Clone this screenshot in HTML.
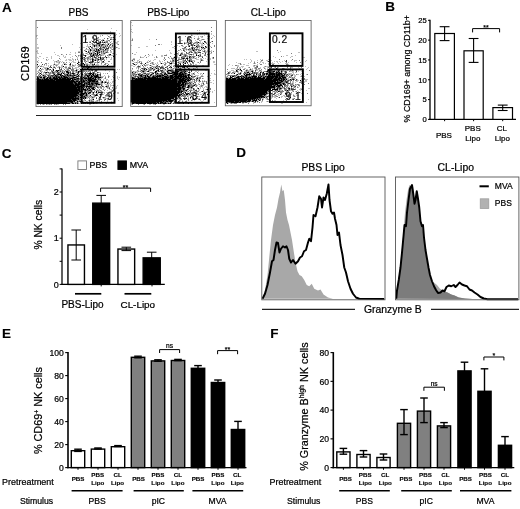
<!DOCTYPE html>
<html lang="en">
<head>
<meta charset="utf-8">
<title>Figure</title>
<style>
html,body{margin:0;padding:0;background:#fff;}
body{width:520px;height:509px;overflow:hidden;}
svg{display:block;font-family:'Liberation Sans', Arial, Helvetica, sans-serif;}
text{stroke:#000;stroke-width:.22px;}
text[font-weight]{stroke-width:.12px;}
</style>
</head>
<body>
<svg width="520" height="509" viewBox="0 0 520 509" font-family="'Liberation Sans', Arial, Helvetica, sans-serif">
<rect width="520" height="509" fill="#fff"/>
<text x="2" y="12.2" font-size="13.5" text-anchor="start" fill="#000" font-weight="bold">A</text>
<g transform="translate(36 20) scale(0.5)">
<path d="M1 121 1 122 1 122 1 123 1 123 1 124 1 124 1 125 1 125 1 126 1 126 1 127 1 127 1 128 1 128 1 129 1 129 1 130 1 130 1 131 1 131 1 132 1 132 1 133 1 133 1 134 1 134 1 135 1 135 1 136 1 136 1 137 1 137 1 138 1 138 1 139 1 139 1 140 1 140 1 141 1 141 1 142 1 142 1 143 1 143 1 144 1 144 1 145 1 145 1 146 1 146 1 147 1 147 1 148 1 148 1 149 1 149 1 150 1 150 1 151 1 151 1 152 1 152 1 153 1 153 1 154 1 154 1 155 1 155 1 156 1 156 1 157 1 157 1 158 1 158 1 159 1 159 1 160 1 160 1 161 1 161 1 162 1 162 1 163 1 163 1 164 1 164 1 165 1 165 1 166 47 166 47 165 59 165 59 164 60 164 60 163 62 163 62 162 64 162 64 161 66 161 66 160 68 160 68 159 70 159 70 158 72 158 72 157 72 157 72 156 74 156 74 155 74 155 74 154 75 154 75 153 75 153 75 152 76 152 76 151 77 151 77 150 77 150 77 149 78 149 78 148 78 148 78 147 78 147 78 146 79 146 79 145 80 145 80 144 81 144 81 143 80 143 80 142 80 142 80 141 80 141 80 140 80 140 80 139 79 139 79 138 79 138 79 137 78 137 78 136 78 136 78 135 78 135 78 134 77 134 77 133 77 133 77 132 76 132 76 131 75 131 75 130 72 130 72 129 72 129 72 128 71 128 71 127 69 127 69 126 67 126 67 125 65 125 65 124 63 124 63 123 61 123 61 122 54 122 54 121zM2 14h1v1h-1zM2 15h1v1h-1zM150 16h1v1h-1zM102 19h1v1h-1zM160 20h1v1h-1zM148 23h1v1h-1zM121 24h1v1h-1zM148 24h1v1h-1zM101 25h1v1h-1zM142 26h1v1h-1zM146 26h1v1h-1zM156 26h1v1h-1zM166 26h1v1h-1zM153 27h2v1h-2zM116 28h1v1h-1zM161 28h1v1h-1zM132 30h2v1h-2zM148 30h2v1h-2zM168 30h1v1h-1zM1 31h2v1h-2zM121 31h1v1h-1zM129 31h1v1h-1zM142 31h1v1h-1zM158 31h1v1h-1zM1 33h1v1h-1zM129 33h1v1h-1zM144 33h3v1h-3zM167 33h1v1h-1zM114 34h2v1h-2zM124 34h1v1h-1zM147 34h1v1h-1zM150 34h1v1h-1zM154 34h2v1h-2zM157 34h1v1h-1zM113 35h1v1h-1zM124 35h1v1h-1zM149 35h2v1h-2zM153 35h2v1h-2zM121 36h1v1h-1zM123 36h1v1h-1zM125 36h1v1h-1zM136 36h1v1h-1zM142 36h1v1h-1zM145 36h1v1h-1zM149 36h2v1h-2zM2 37h1v1h-1zM99 37h2v1h-2zM117 37h1v1h-1zM137 37h1v1h-1zM142 37h2v1h-2zM99 38h2v1h-2zM125 38h1v1h-1zM142 38h1v1h-1zM149 38h2v1h-2zM157 38h2v1h-2zM99 39h1v1h-1zM116 39h1v1h-1zM127 39h2v1h-2zM133 39h2v1h-2zM148 39h3v1h-3zM153 39h3v1h-3zM157 39h2v1h-2zM116 40h1v1h-1zM123 40h2v1h-2zM130 40h1v1h-1zM132 40h4v1h-4zM143 40h2v1h-2zM146 40h1v1h-1zM110 41h1v1h-1zM114 41h2v1h-2zM117 41h1v1h-1zM120 41h5v1h-5zM130 41h1v1h-1zM134 41h2v1h-2zM137 41h1v1h-1zM140 41h1v1h-1zM145 41h2v1h-2zM113 42h1v1h-1zM127 42h2v1h-2zM132 42h2v1h-2zM136 42h1v1h-1zM140 42h1v1h-1zM142 42h2v1h-2zM147 42h1v1h-1zM163 42h2v1h-2zM112 43h2v1h-2zM124 43h2v1h-2zM128 43h2v1h-2zM139 43h2v1h-2zM151 43h1v1h-1zM154 43h1v1h-1zM120 44h2v1h-2zM124 44h1v1h-1zM126 44h1v1h-1zM128 44h2v1h-2zM132 44h2v1h-2zM136 44h2v1h-2zM139 44h5v1h-5zM148 44h2v1h-2zM156 44h1v1h-1zM120 45h3v1h-3zM124 45h1v1h-1zM126 45h5v1h-5zM132 45h1v1h-1zM134 45h5v1h-5zM157 45h1v1h-1zM159 45h1v1h-1zM161 45h2v1h-2zM111 46h2v1h-2zM117 46h1v1h-1zM121 46h5v1h-5zM127 46h2v1h-2zM134 46h1v1h-1zM138 46h1v1h-1zM143 46h3v1h-3zM153 46h1v1h-1zM156 46h1v1h-1zM161 46h2v1h-2zM88 47h1v1h-1zM112 47h1v1h-1zM121 47h8v1h-8zM146 47h1v1h-1zM151 47h2v1h-2zM2 48h1v1h-1zM73 48h1v1h-1zM117 48h2v1h-2zM121 48h2v1h-2zM126 48h2v1h-2zM129 48h1v1h-1zM131 48h4v1h-4zM137 48h1v1h-1zM144 48h2v1h-2zM148 48h1v1h-1zM150 48h1v1h-1zM164 48h2v1h-2zM102 49h1v1h-1zM107 49h2v1h-2zM112 49h4v1h-4zM121 49h2v1h-2zM124 49h2v1h-2zM127 49h1v1h-1zM129 49h2v1h-2zM132 49h5v1h-5zM139 49h1v1h-1zM141 49h2v1h-2zM144 49h2v1h-2zM148 49h2v1h-2zM152 49h1v1h-1zM162 49h1v1h-1zM114 50h1v1h-1zM116 50h2v1h-2zM120 50h1v1h-1zM123 50h2v1h-2zM126 50h2v1h-2zM131 50h2v1h-2zM138 50h2v1h-2zM141 50h2v1h-2zM148 50h2v1h-2zM153 50h1v1h-1zM48 51h1v1h-1zM103 51h1v1h-1zM113 51h2v1h-2zM116 51h6v1h-6zM125 51h3v1h-3zM129 51h4v1h-4zM134 51h1v1h-1zM137 51h1v1h-1zM142 51h2v1h-2zM146 51h2v1h-2zM152 51h2v1h-2zM103 52h2v1h-2zM108 52h2v1h-2zM113 52h2v1h-2zM116 52h2v1h-2zM120 52h3v1h-3zM128 52h1v1h-1zM132 52h1v1h-1zM134 52h1v1h-1zM137 52h3v1h-3zM142 52h2v1h-2zM145 52h1v1h-1zM151 52h3v1h-3zM158 52h1v1h-1zM100 53h1v1h-1zM107 53h3v1h-3zM116 53h3v1h-3zM124 53h1v1h-1zM126 53h3v1h-3zM130 53h2v1h-2zM134 53h1v1h-1zM139 53h2v1h-2zM146 53h2v1h-2zM87 54h1v1h-1zM104 54h3v1h-3zM110 54h1v1h-1zM112 54h2v1h-2zM129 54h1v1h-1zM132 54h1v1h-1zM134 54h3v1h-3zM145 54h1v1h-1zM148 54h3v1h-3zM152 54h1v1h-1zM156 54h1v1h-1zM160 54h3v1h-3zM3 55h2v1h-2zM50 55h2v1h-2zM91 55h1v1h-1zM95 55h1v1h-1zM97 55h1v1h-1zM110 55h2v1h-2zM117 55h1v1h-1zM121 55h1v1h-1zM123 55h2v1h-2zM128 55h3v1h-3zM133 55h1v1h-1zM135 55h4v1h-4zM140 55h2v1h-2zM144 55h2v1h-2zM147 55h1v1h-1zM158 55h1v1h-1zM3 56h2v1h-2zM50 56h2v1h-2zM101 56h1v1h-1zM107 56h1v1h-1zM113 56h2v1h-2zM118 56h1v1h-1zM126 56h2v1h-2zM129 56h1v1h-1zM131 56h1v1h-1zM136 56h1v1h-1zM140 56h6v1h-6zM155 56h1v1h-1zM158 56h1v1h-1zM100 57h1v1h-1zM106 57h2v1h-2zM111 57h2v1h-2zM116 57h1v1h-1zM119 57h4v1h-4zM126 57h1v1h-1zM128 57h3v1h-3zM133 57h2v1h-2zM137 57h2v1h-2zM141 57h2v1h-2zM145 57h1v1h-1zM149 57h1v1h-1zM151 57h1v1h-1zM156 57h1v1h-1zM165 57h2v1h-2zM98 58h1v1h-1zM108 58h2v1h-2zM111 58h2v1h-2zM115 58h1v1h-1zM120 58h3v1h-3zM124 58h2v1h-2zM128 58h3v1h-3zM133 58h2v1h-2zM138 58h6v1h-6zM151 58h2v1h-2zM88 59h1v1h-1zM100 59h1v1h-1zM103 59h1v1h-1zM105 59h2v1h-2zM108 59h2v1h-2zM116 59h3v1h-3zM120 59h3v1h-3zM124 59h2v1h-2zM127 59h1v1h-1zM129 59h1v1h-1zM131 59h1v1h-1zM133 59h3v1h-3zM138 59h2v1h-2zM144 59h1v1h-1zM152 59h1v1h-1zM154 59h1v1h-1zM156 59h1v1h-1zM2 60h1v1h-1zM98 60h1v1h-1zM105 60h1v1h-1zM108 60h2v1h-2zM113 60h4v1h-4zM119 60h4v1h-4zM124 60h4v1h-4zM131 60h1v1h-1zM133 60h4v1h-4zM139 60h1v1h-1zM142 60h1v1h-1zM149 60h1v1h-1zM96 61h2v1h-2zM106 61h1v1h-1zM108 61h4v1h-4zM116 61h2v1h-2zM120 61h1v1h-1zM122 61h1v1h-1zM124 61h3v1h-3zM129 61h1v1h-1zM136 61h1v1h-1zM139 61h2v1h-2zM143 61h2v1h-2zM149 61h1v1h-1zM98 62h4v1h-4zM105 62h1v1h-1zM107 62h3v1h-3zM114 62h1v1h-1zM118 62h5v1h-5zM126 62h1v1h-1zM129 62h4v1h-4zM135 62h1v1h-1zM139 62h2v1h-2zM143 62h1v1h-1zM149 62h2v1h-2zM1 63h2v1h-2zM85 63h2v1h-2zM100 63h2v1h-2zM104 63h2v1h-2zM113 63h1v1h-1zM117 63h4v1h-4zM122 63h4v1h-4zM127 63h1v1h-1zM131 63h1v1h-1zM134 63h3v1h-3zM142 63h1v1h-1zM78 64h1v1h-1zM85 64h2v1h-2zM91 64h1v1h-1zM104 64h2v1h-2zM115 64h3v1h-3zM122 64h3v1h-3zM126 64h3v1h-3zM134 64h3v1h-3zM138 64h1v1h-1zM141 64h2v1h-2zM144 64h1v1h-1zM156 64h1v1h-1zM2 65h1v1h-1zM37 65h1v1h-1zM68 65h1v1h-1zM85 65h2v1h-2zM91 65h1v1h-1zM93 65h1v1h-1zM103 65h1v1h-1zM105 65h4v1h-4zM110 65h1v1h-1zM112 65h1v1h-1zM115 65h1v1h-1zM121 65h3v1h-3zM125 65h3v1h-3zM130 65h2v1h-2zM133 65h1v1h-1zM139 65h3v1h-3zM143 65h1v1h-1zM149 65h2v1h-2zM2 66h1v1h-1zM4 66h1v1h-1zM11 66h1v1h-1zM79 66h1v1h-1zM94 66h1v1h-1zM102 66h1v1h-1zM106 66h1v1h-1zM110 66h2v1h-2zM114 66h3v1h-3zM118 66h2v1h-2zM121 66h3v1h-3zM125 66h2v1h-2zM130 66h1v1h-1zM133 66h2v1h-2zM136 66h3v1h-3zM153 66h1v1h-1zM155 66h1v1h-1zM98 67h1v1h-1zM100 67h2v1h-2zM106 67h7v1h-7zM116 67h1v1h-1zM118 67h2v1h-2zM122 67h3v1h-3zM130 67h1v1h-1zM135 67h1v1h-1zM137 67h1v1h-1zM154 67h1v1h-1zM38 68h1v1h-1zM52 68h1v1h-1zM104 68h1v1h-1zM108 68h4v1h-4zM114 68h7v1h-7zM122 68h2v1h-2zM126 68h4v1h-4zM133 68h1v1h-1zM135 68h1v1h-1zM146 68h4v1h-4zM50 69h2v1h-2zM60 69h2v1h-2zM67 69h2v1h-2zM89 69h2v1h-2zM93 69h3v1h-3zM102 69h1v1h-1zM107 69h2v1h-2zM113 69h3v1h-3zM121 69h3v1h-3zM126 69h2v1h-2zM130 69h1v1h-1zM136 69h1v1h-1zM145 69h1v1h-1zM147 69h3v1h-3zM156 69h2v1h-2zM160 69h1v1h-1zM43 70h2v1h-2zM84 70h2v1h-2zM89 70h1v1h-1zM94 70h1v1h-1zM96 70h4v1h-4zM109 70h1v1h-1zM112 70h1v1h-1zM114 70h2v1h-2zM117 70h2v1h-2zM120 70h2v1h-2zM123 70h2v1h-2zM126 70h1v1h-1zM129 70h4v1h-4zM134 70h1v1h-1zM145 70h1v1h-1zM147 70h1v1h-1zM151 70h2v1h-2zM54 71h1v1h-1zM78 71h2v1h-2zM86 71h1v1h-1zM89 71h1v1h-1zM91 71h2v1h-2zM95 71h1v1h-1zM97 71h4v1h-4zM108 71h8v1h-8zM117 71h2v1h-2zM120 71h1v1h-1zM123 71h3v1h-3zM128 71h1v1h-1zM139 71h1v1h-1zM142 71h2v1h-2zM147 71h2v1h-2zM155 71h2v1h-2zM55 72h1v1h-1zM89 72h5v1h-5zM98 72h2v1h-2zM109 72h3v1h-3zM113 72h2v1h-2zM116 72h1v1h-1zM120 72h4v1h-4zM129 72h1v1h-1zM138 72h1v1h-1zM144 72h1v1h-1zM154 72h2v1h-2zM7 73h2v1h-2zM30 73h1v1h-1zM47 73h1v1h-1zM59 73h1v1h-1zM73 73h1v1h-1zM80 73h2v1h-2zM85 73h1v1h-1zM89 73h2v1h-2zM98 73h1v1h-1zM105 73h3v1h-3zM109 73h5v1h-5zM116 73h2v1h-2zM125 73h1v1h-1zM128 73h1v1h-1zM138 73h2v1h-2zM154 73h2v1h-2zM3 74h1v1h-1zM30 74h1v1h-1zM57 74h1v1h-1zM68 74h1v1h-1zM83 74h1v1h-1zM95 74h1v1h-1zM97 74h1v1h-1zM104 74h2v1h-2zM107 74h2v1h-2zM112 74h3v1h-3zM116 74h4v1h-4zM121 74h1v1h-1zM124 74h3v1h-3zM128 74h3v1h-3zM135 74h1v1h-1zM139 74h3v1h-3zM145 74h2v1h-2zM150 74h1v1h-1zM21 75h2v1h-2zM58 75h1v1h-1zM88 75h1v1h-1zM90 75h5v1h-5zM96 75h2v1h-2zM101 75h3v1h-3zM109 75h1v1h-1zM117 75h1v1h-1zM119 75h2v1h-2zM124 75h1v1h-1zM126 75h1v1h-1zM128 75h2v1h-2zM132 75h3v1h-3zM136 75h2v1h-2zM140 75h3v1h-3zM4 76h1v1h-1zM14 76h1v1h-1zM46 76h2v1h-2zM73 76h1v1h-1zM83 76h1v1h-1zM89 76h2v1h-2zM92 76h2v1h-2zM97 76h1v1h-1zM105 76h1v1h-1zM112 76h1v1h-1zM119 76h2v1h-2zM122 76h3v1h-3zM128 76h5v1h-5zM134 76h2v1h-2zM141 76h1v1h-1zM151 76h1v1h-1zM30 77h1v1h-1zM89 77h1v1h-1zM92 77h2v1h-2zM95 77h2v1h-2zM98 77h2v1h-2zM101 77h4v1h-4zM106 77h1v1h-1zM109 77h1v1h-1zM111 77h4v1h-4zM119 77h1v1h-1zM121 77h1v1h-1zM128 77h2v1h-2zM133 77h2v1h-2zM20 78h2v1h-2zM48 78h1v1h-1zM60 78h1v1h-1zM72 78h1v1h-1zM82 78h2v1h-2zM88 78h1v1h-1zM95 78h2v1h-2zM102 78h2v1h-2zM106 78h1v1h-1zM108 78h1v1h-1zM111 78h4v1h-4zM117 78h2v1h-2zM122 78h1v1h-1zM124 78h2v1h-2zM127 78h8v1h-8zM149 78h2v1h-2zM24 79h1v1h-1zM64 79h1v1h-1zM67 79h2v1h-2zM74 79h1v1h-1zM78 79h2v1h-2zM95 79h3v1h-3zM99 79h1v1h-1zM105 79h1v1h-1zM108 79h1v1h-1zM112 79h4v1h-4zM119 79h1v1h-1zM121 79h2v1h-2zM124 79h2v1h-2zM127 79h2v1h-2zM133 79h1v1h-1zM135 79h2v1h-2zM140 79h1v1h-1zM43 80h1v1h-1zM59 80h2v1h-2zM67 80h2v1h-2zM78 80h1v1h-1zM84 80h1v1h-1zM89 80h1v1h-1zM96 80h2v1h-2zM99 80h1v1h-1zM109 80h1v1h-1zM112 80h8v1h-8zM121 80h5v1h-5zM129 80h2v1h-2zM136 80h1v1h-1zM5 81h1v1h-1zM21 81h2v1h-2zM35 81h1v1h-1zM44 81h2v1h-2zM70 81h1v1h-1zM75 81h1v1h-1zM91 81h2v1h-2zM99 81h1v1h-1zM103 81h2v1h-2zM112 81h2v1h-2zM118 81h2v1h-2zM130 81h1v1h-1zM137 81h1v1h-1zM2 82h1v1h-1zM36 82h1v1h-1zM47 82h2v1h-2zM52 82h1v1h-1zM84 82h2v1h-2zM97 82h1v1h-1zM99 82h4v1h-4zM109 82h2v1h-2zM112 82h4v1h-4zM123 82h1v1h-1zM132 82h1v1h-1zM134 82h2v1h-2zM145 82h3v1h-3zM2 83h1v1h-1zM39 83h4v1h-4zM44 83h1v1h-1zM73 83h2v1h-2zM88 83h1v1h-1zM92 83h2v1h-2zM97 83h1v1h-1zM104 83h1v1h-1zM109 83h2v1h-2zM112 83h3v1h-3zM123 83h1v1h-1zM127 83h1v1h-1zM131 83h2v1h-2zM134 83h2v1h-2zM144 83h1v1h-1zM2 84h1v1h-1zM41 84h2v1h-2zM44 84h1v1h-1zM46 84h1v1h-1zM54 84h2v1h-2zM60 84h2v1h-2zM66 84h1v1h-1zM70 84h1v1h-1zM74 84h1v1h-1zM84 84h2v1h-2zM87 84h1v1h-1zM98 84h2v1h-2zM106 84h5v1h-5zM112 84h2v1h-2zM115 84h2v1h-2zM119 84h2v1h-2zM124 84h3v1h-3zM131 84h2v1h-2zM134 84h2v1h-2zM5 85h1v1h-1zM10 85h2v1h-2zM36 85h1v1h-1zM46 85h1v1h-1zM51 85h1v1h-1zM57 85h1v1h-1zM76 85h1v1h-1zM79 85h1v1h-1zM84 85h2v1h-2zM87 85h1v1h-1zM105 85h4v1h-4zM110 85h3v1h-3zM118 85h1v1h-1zM122 85h3v1h-3zM133 85h1v1h-1zM137 85h1v1h-1zM19 86h2v1h-2zM24 86h1v1h-1zM45 86h1v1h-1zM47 86h1v1h-1zM57 86h2v1h-2zM68 86h2v1h-2zM82 86h3v1h-3zM91 86h1v1h-1zM93 86h3v1h-3zM113 86h1v1h-1zM116 86h1v1h-1zM130 86h1v1h-1zM141 86h2v1h-2zM19 87h2v1h-2zM37 87h1v1h-1zM54 87h1v1h-1zM68 87h1v1h-1zM82 87h2v1h-2zM88 87h1v1h-1zM92 87h1v1h-1zM94 87h2v1h-2zM99 87h2v1h-2zM102 87h1v1h-1zM108 87h3v1h-3zM117 87h1v1h-1zM123 87h1v1h-1zM130 87h1v1h-1zM138 87h2v1h-2zM150 87h1v1h-1zM2 88h2v1h-2zM12 88h2v1h-2zM21 88h1v1h-1zM36 88h2v1h-2zM43 88h1v1h-1zM56 88h2v1h-2zM59 88h2v1h-2zM68 88h2v1h-2zM73 88h1v1h-1zM78 88h1v1h-1zM84 88h2v1h-2zM89 88h1v1h-1zM94 88h4v1h-4zM99 88h2v1h-2zM106 88h1v1h-1zM111 88h4v1h-4zM116 88h2v1h-2zM137 88h3v1h-3zM144 88h2v1h-2zM2 89h2v1h-2zM12 89h1v1h-1zM16 89h2v1h-2zM35 89h2v1h-2zM39 89h2v1h-2zM44 89h1v1h-1zM53 89h1v1h-1zM56 89h2v1h-2zM59 89h2v1h-2zM66 89h4v1h-4zM85 89h4v1h-4zM91 89h2v1h-2zM96 89h2v1h-2zM101 89h4v1h-4zM108 89h1v1h-1zM113 89h1v1h-1zM115 89h3v1h-3zM120 89h1v1h-1zM123 89h2v1h-2zM130 89h1v1h-1zM137 89h1v1h-1zM7 90h1v1h-1zM17 90h1v1h-1zM25 90h1v1h-1zM28 90h1v1h-1zM34 90h1v1h-1zM39 90h4v1h-4zM51 90h2v1h-2zM67 90h3v1h-3zM72 90h1v1h-1zM82 90h1v1h-1zM87 90h2v1h-2zM96 90h1v1h-1zM100 90h4v1h-4zM107 90h1v1h-1zM118 90h1v1h-1zM125 90h1v1h-1zM135 90h1v1h-1zM142 90h2v1h-2zM2 91h1v1h-1zM10 91h1v1h-1zM20 91h1v1h-1zM31 91h1v1h-1zM73 91h4v1h-4zM79 91h1v1h-1zM84 91h1v1h-1zM87 91h3v1h-3zM93 91h2v1h-2zM96 91h2v1h-2zM102 91h1v1h-1zM112 91h4v1h-4zM121 91h1v1h-1zM123 91h1v1h-1zM142 91h2v1h-2zM3 92h3v1h-3zM24 92h1v1h-1zM29 92h1v1h-1zM35 92h2v1h-2zM52 92h1v1h-1zM54 92h2v1h-2zM67 92h1v1h-1zM71 92h2v1h-2zM74 92h1v1h-1zM84 92h3v1h-3zM93 92h2v1h-2zM98 92h1v1h-1zM120 92h2v1h-2zM140 92h1v1h-1zM4 93h1v1h-1zM8 93h5v1h-5zM14 93h1v1h-1zM28 93h2v1h-2zM40 93h1v1h-1zM44 93h1v1h-1zM47 93h1v1h-1zM51 93h1v1h-1zM54 93h2v1h-2zM59 93h2v1h-2zM68 93h1v1h-1zM76 93h1v1h-1zM86 93h1v1h-1zM88 93h1v1h-1zM90 93h2v1h-2zM93 93h1v1h-1zM97 93h1v1h-1zM101 93h2v1h-2zM105 93h1v1h-1zM2 94h2v1h-2zM17 94h1v1h-1zM28 94h4v1h-4zM34 94h5v1h-5zM42 94h1v1h-1zM44 94h1v1h-1zM47 94h1v1h-1zM50 94h1v1h-1zM59 94h1v1h-1zM61 94h1v1h-1zM64 94h3v1h-3zM92 94h1v1h-1zM95 94h2v1h-2zM99 94h4v1h-4zM104 94h3v1h-3zM111 94h1v1h-1zM115 94h2v1h-2zM157 94h1v1h-1zM15 95h1v1h-1zM19 95h2v1h-2zM22 95h1v1h-1zM26 95h2v1h-2zM30 95h1v1h-1zM37 95h1v1h-1zM46 95h2v1h-2zM49 95h1v1h-1zM53 95h1v1h-1zM56 95h1v1h-1zM59 95h2v1h-2zM67 95h2v1h-2zM72 95h2v1h-2zM79 95h2v1h-2zM83 95h1v1h-1zM85 95h1v1h-1zM95 95h1v1h-1zM102 95h1v1h-1zM104 95h4v1h-4zM111 95h1v1h-1zM113 95h1v1h-1zM117 95h1v1h-1zM124 95h1v1h-1zM3 96h1v1h-1zM8 96h2v1h-2zM12 96h1v1h-1zM17 96h4v1h-4zM22 96h4v1h-4zM38 96h1v1h-1zM46 96h1v1h-1zM58 96h1v1h-1zM65 96h4v1h-4zM72 96h3v1h-3zM79 96h2v1h-2zM87 96h1v1h-1zM92 96h2v1h-2zM102 96h2v1h-2zM125 96h1v1h-1zM8 97h2v1h-2zM22 97h3v1h-3zM32 97h1v1h-1zM35 97h1v1h-1zM38 97h1v1h-1zM46 97h2v1h-2zM50 97h2v1h-2zM55 97h1v1h-1zM61 97h2v1h-2zM65 97h2v1h-2zM68 97h2v1h-2zM77 97h1v1h-1zM92 97h2v1h-2zM97 97h2v1h-2zM102 97h4v1h-4zM108 97h2v1h-2zM111 97h1v1h-1zM19 98h2v1h-2zM22 98h3v1h-3zM26 98h4v1h-4zM34 98h2v1h-2zM46 98h3v1h-3zM50 98h2v1h-2zM63 98h2v1h-2zM69 98h2v1h-2zM72 98h3v1h-3zM83 98h2v1h-2zM88 98h2v1h-2zM91 98h1v1h-1zM99 98h2v1h-2zM112 98h1v1h-1zM117 98h1v1h-1zM124 98h1v1h-1zM129 98h3v1h-3zM135 98h1v1h-1zM6 99h2v1h-2zM10 99h2v1h-2zM13 99h2v1h-2zM21 99h1v1h-1zM23 99h2v1h-2zM28 99h1v1h-1zM33 99h3v1h-3zM49 99h2v1h-2zM56 99h2v1h-2zM60 99h1v1h-1zM63 99h2v1h-2zM71 99h1v1h-1zM75 99h1v1h-1zM80 99h2v1h-2zM88 99h5v1h-5zM99 99h2v1h-2zM102 99h2v1h-2zM105 99h2v1h-2zM108 99h2v1h-2zM111 99h4v1h-4zM116 99h5v1h-5zM125 99h1v1h-1zM130 99h2v1h-2zM163 99h1v1h-1zM166 99h1v1h-1zM4 100h1v1h-1zM6 100h4v1h-4zM11 100h1v1h-1zM18 100h1v1h-1zM20 100h1v1h-1zM27 100h1v1h-1zM30 100h2v1h-2zM33 100h3v1h-3zM40 100h2v1h-2zM43 100h3v1h-3zM48 100h3v1h-3zM55 100h1v1h-1zM59 100h2v1h-2zM65 100h2v1h-2zM70 100h1v1h-1zM74 100h3v1h-3zM78 100h4v1h-4zM87 100h2v1h-2zM90 100h2v1h-2zM99 100h2v1h-2zM106 100h1v1h-1zM111 100h3v1h-3zM117 100h4v1h-4zM139 100h1v1h-1zM20 101h1v1h-1zM23 101h1v1h-1zM34 101h2v1h-2zM39 101h9v1h-9zM52 101h2v1h-2zM58 101h1v1h-1zM62 101h2v1h-2zM65 101h2v1h-2zM71 101h3v1h-3zM80 101h3v1h-3zM89 101h2v1h-2zM94 101h3v1h-3zM105 101h1v1h-1zM107 101h2v1h-2zM111 101h2v1h-2zM119 101h4v1h-4zM3 102h1v1h-1zM9 102h2v1h-2zM17 102h1v1h-1zM22 102h1v1h-1zM31 102h2v1h-2zM38 102h2v1h-2zM41 102h3v1h-3zM48 102h1v1h-1zM51 102h2v1h-2zM60 102h4v1h-4zM66 102h1v1h-1zM72 102h2v1h-2zM77 102h2v1h-2zM80 102h1v1h-1zM83 102h7v1h-7zM94 102h5v1h-5zM105 102h1v1h-1zM107 102h3v1h-3zM117 102h1v1h-1zM119 102h2v1h-2zM147 102h1v1h-1zM5 103h1v1h-1zM9 103h1v1h-1zM13 103h1v1h-1zM30 103h1v1h-1zM32 103h3v1h-3zM36 103h1v1h-1zM41 103h4v1h-4zM47 103h3v1h-3zM52 103h1v1h-1zM55 103h3v1h-3zM59 103h7v1h-7zM68 103h2v1h-2zM74 103h2v1h-2zM80 103h1v1h-1zM84 103h3v1h-3zM89 103h1v1h-1zM92 103h1v1h-1zM100 103h2v1h-2zM103 103h2v1h-2zM113 103h1v1h-1zM116 103h1v1h-1zM119 103h2v1h-2zM4 104h1v1h-1zM10 104h2v1h-2zM16 104h6v1h-6zM24 104h2v1h-2zM32 104h2v1h-2zM35 104h2v1h-2zM40 104h2v1h-2zM43 104h4v1h-4zM52 104h1v1h-1zM56 104h2v1h-2zM60 104h7v1h-7zM68 104h2v1h-2zM72 104h2v1h-2zM75 104h1v1h-1zM79 104h1v1h-1zM82 104h5v1h-5zM92 104h1v1h-1zM94 104h1v1h-1zM99 104h1v1h-1zM109 104h1v1h-1zM115 104h2v1h-2zM122 104h3v1h-3zM127 104h1v1h-1zM160 104h2v1h-2zM4 105h1v1h-1zM6 105h1v1h-1zM14 105h1v1h-1zM19 105h6v1h-6zM27 105h3v1h-3zM31 105h2v1h-2zM34 105h2v1h-2zM37 105h1v1h-1zM39 105h1v1h-1zM43 105h2v1h-2zM47 105h2v1h-2zM51 105h4v1h-4zM61 105h6v1h-6zM68 105h1v1h-1zM74 105h1v1h-1zM80 105h2v1h-2zM84 105h2v1h-2zM98 105h1v1h-1zM102 105h1v1h-1zM107 105h3v1h-3zM112 105h5v1h-5zM123 105h1v1h-1zM125 105h1v1h-1zM129 105h1v1h-1zM2 106h1v1h-1zM6 106h4v1h-4zM18 106h3v1h-3zM25 106h4v1h-4zM31 106h5v1h-5zM38 106h1v1h-1zM43 106h2v1h-2zM47 106h2v1h-2zM50 106h3v1h-3zM54 106h2v1h-2zM62 106h4v1h-4zM69 106h1v1h-1zM72 106h6v1h-6zM83 106h3v1h-3zM93 106h1v1h-1zM101 106h1v1h-1zM104 106h9v1h-9zM114 106h2v1h-2zM122 106h1v1h-1zM128 106h2v1h-2zM139 106h1v1h-1zM142 106h2v1h-2zM2 107h1v1h-1zM8 107h3v1h-3zM14 107h1v1h-1zM29 107h1v1h-1zM35 107h3v1h-3zM42 107h5v1h-5zM50 107h2v1h-2zM54 107h4v1h-4zM59 107h1v1h-1zM61 107h1v1h-1zM64 107h2v1h-2zM67 107h10v1h-10zM79 107h1v1h-1zM83 107h2v1h-2zM88 107h1v1h-1zM93 107h1v1h-1zM96 107h4v1h-4zM101 107h3v1h-3zM105 107h8v1h-8zM114 107h6v1h-6zM121 107h1v1h-1zM135 107h1v1h-1zM1 108h1v1h-1zM4 108h1v1h-1zM7 108h1v1h-1zM11 108h1v1h-1zM13 108h1v1h-1zM16 108h1v1h-1zM19 108h2v1h-2zM22 108h1v1h-1zM24 108h1v1h-1zM35 108h4v1h-4zM41 108h9v1h-9zM51 108h1v1h-1zM56 108h2v1h-2zM59 108h1v1h-1zM61 108h5v1h-5zM67 108h3v1h-3zM73 108h3v1h-3zM81 108h4v1h-4zM86 108h2v1h-2zM92 108h3v1h-3zM97 108h4v1h-4zM103 108h2v1h-2zM107 108h3v1h-3zM112 108h4v1h-4zM118 108h2v1h-2zM122 108h8v1h-8zM6 109h1v1h-1zM10 109h2v1h-2zM14 109h1v1h-1zM21 109h1v1h-1zM26 109h2v1h-2zM29 109h1v1h-1zM35 109h3v1h-3zM41 109h2v1h-2zM44 109h8v1h-8zM56 109h1v1h-1zM58 109h1v1h-1zM60 109h4v1h-4zM67 109h1v1h-1zM69 109h2v1h-2zM75 109h3v1h-3zM79 109h2v1h-2zM82 109h2v1h-2zM92 109h2v1h-2zM99 109h3v1h-3zM105 109h5v1h-5zM111 109h6v1h-6zM119 109h2v1h-2zM122 109h2v1h-2zM129 109h1v1h-1zM7 110h3v1h-3zM13 110h3v1h-3zM17 110h1v1h-1zM19 110h1v1h-1zM23 110h4v1h-4zM31 110h9v1h-9zM41 110h4v1h-4zM48 110h3v1h-3zM52 110h3v1h-3zM57 110h3v1h-3zM61 110h3v1h-3zM65 110h8v1h-8zM74 110h4v1h-4zM79 110h2v1h-2zM84 110h2v1h-2zM99 110h1v1h-1zM101 110h3v1h-3zM105 110h4v1h-4zM110 110h3v1h-3zM114 110h2v1h-2zM117 110h1v1h-1zM119 110h6v1h-6zM128 110h2v1h-2zM154 110h1v1h-1zM4 111h2v1h-2zM8 111h1v1h-1zM13 111h3v1h-3zM17 111h2v1h-2zM23 111h2v1h-2zM26 111h1v1h-1zM28 111h4v1h-4zM33 111h2v1h-2zM38 111h5v1h-5zM45 111h2v1h-2zM48 111h7v1h-7zM57 111h2v1h-2zM61 111h6v1h-6zM68 111h3v1h-3zM72 111h3v1h-3zM76 111h5v1h-5zM83 111h3v1h-3zM87 111h1v1h-1zM91 111h2v1h-2zM95 111h13v1h-13zM109 111h4v1h-4zM114 111h11v1h-11zM126 111h1v1h-1zM128 111h1v1h-1zM137 111h1v1h-1zM145 111h1v1h-1zM3 112h1v1h-1zM6 112h2v1h-2zM10 112h1v1h-1zM17 112h2v1h-2zM20 112h2v1h-2zM25 112h2v1h-2zM29 112h1v1h-1zM32 112h2v1h-2zM35 112h13v1h-13zM49 112h3v1h-3zM53 112h7v1h-7zM61 112h2v1h-2zM64 112h1v1h-1zM66 112h3v1h-3zM70 112h6v1h-6zM79 112h6v1h-6zM87 112h1v1h-1zM91 112h1v1h-1zM95 112h2v1h-2zM99 112h1v1h-1zM102 112h5v1h-5zM108 112h6v1h-6zM115 112h9v1h-9zM125 112h1v1h-1zM145 112h2v1h-2zM153 112h1v1h-1zM162 112h1v1h-1zM1 113h6v1h-6zM8 113h2v1h-2zM11 113h1v1h-1zM13 113h7v1h-7zM24 113h2v1h-2zM27 113h6v1h-6zM35 113h2v1h-2zM39 113h4v1h-4zM44 113h1v1h-1zM47 113h1v1h-1zM49 113h4v1h-4zM54 113h5v1h-5zM60 113h3v1h-3zM64 113h2v1h-2zM69 113h1v1h-1zM73 113h2v1h-2zM77 113h1v1h-1zM81 113h5v1h-5zM87 113h4v1h-4zM92 113h1v1h-1zM96 113h2v1h-2zM99 113h2v1h-2zM102 113h5v1h-5zM110 113h4v1h-4zM115 113h11v1h-11zM127 113h4v1h-4zM132 113h1v1h-1zM135 113h1v1h-1zM139 113h1v1h-1zM144 113h1v1h-1zM2 114h3v1h-3zM7 114h5v1h-5zM14 114h5v1h-5zM22 114h5v1h-5zM28 114h3v1h-3zM34 114h5v1h-5zM40 114h2v1h-2zM43 114h5v1h-5zM49 114h4v1h-4zM54 114h1v1h-1zM56 114h8v1h-8zM66 114h1v1h-1zM68 114h1v1h-1zM73 114h8v1h-8zM82 114h1v1h-1zM85 114h1v1h-1zM88 114h4v1h-4zM93 114h5v1h-5zM99 114h2v1h-2zM102 114h5v1h-5zM108 114h15v1h-15zM124 114h7v1h-7zM133 114h1v1h-1zM145 114h1v1h-1zM155 114h2v1h-2zM167 114h1v1h-1zM2 115h5v1h-5zM8 115h4v1h-4zM13 115h6v1h-6zM20 115h1v1h-1zM22 115h3v1h-3zM26 115h4v1h-4zM31 115h37v1h-37zM69 115h13v1h-13zM85 115h1v1h-1zM89 115h3v1h-3zM94 115h2v1h-2zM97 115h5v1h-5zM104 115h8v1h-8zM115 115h2v1h-2zM118 115h12v1h-12zM131 115h2v1h-2zM138 115h2v1h-2zM144 115h1v1h-1zM155 115h3v1h-3zM163 115h1v1h-1zM2 116h4v1h-4zM14 116h10v1h-10zM26 116h5v1h-5zM33 116h18v1h-18zM52 116h25v1h-25zM81 116h29v1h-29zM111 116h5v1h-5zM118 116h2v1h-2zM125 116h1v1h-1zM127 116h2v1h-2zM138 116h2v1h-2zM1 117h14v1h-14zM16 117h2v1h-2zM20 117h24v1h-24zM46 117h15v1h-15zM62 117h4v1h-4zM67 117h8v1h-8zM76 117h10v1h-10zM88 117h1v1h-1zM91 117h2v1h-2zM96 117h7v1h-7zM104 117h16v1h-16zM121 117h6v1h-6zM131 117h1v1h-1zM136 117h1v1h-1zM162 117h1v1h-1zM1 118h9v1h-9zM11 118h4v1h-4zM16 118h19v1h-19zM36 118h34v1h-34zM72 118h9v1h-9zM83 118h3v1h-3zM87 118h5v1h-5zM93 118h3v1h-3zM97 118h3v1h-3zM102 118h13v1h-13zM116 118h5v1h-5zM123 118h4v1h-4zM128 118h2v1h-2zM134 118h1v1h-1zM156 118h2v1h-2zM1 119h26v1h-26zM28 119h42v1h-42zM71 119h4v1h-4zM76 119h9v1h-9zM86 119h1v1h-1zM88 119h1v1h-1zM90 119h1v1h-1zM93 119h1v1h-1zM95 119h2v1h-2zM98 119h1v1h-1zM100 119h2v1h-2zM103 119h9v1h-9zM113 119h9v1h-9zM125 119h2v1h-2zM128 119h1v1h-1zM141 119h2v1h-2zM151 119h1v1h-1zM164 119h1v1h-1zM2 120h37v1h-37zM40 120h36v1h-36zM79 120h1v1h-1zM81 120h5v1h-5zM88 120h2v1h-2zM94 120h3v1h-3zM99 120h3v1h-3zM104 120h14v1h-14zM119 120h5v1h-5zM126 120h1v1h-1zM135 120h1v1h-1zM141 120h1v1h-1zM157 120h2v1h-2zM54 121h15v1h-15zM70 121h9v1h-9zM80 121h3v1h-3zM84 121h1v1h-1zM87 121h1v1h-1zM89 121h3v1h-3zM93 121h27v1h-27zM123 121h2v1h-2zM128 121h3v1h-3zM145 121h1v1h-1zM61 122h29v1h-29zM93 122h5v1h-5zM99 122h4v1h-4zM105 122h6v1h-6zM112 122h7v1h-7zM120 122h4v1h-4zM130 122h1v1h-1zM132 122h2v1h-2zM144 122h1v1h-1zM154 122h1v1h-1zM63 123h15v1h-15zM79 123h6v1h-6zM86 123h2v1h-2zM89 123h3v1h-3zM93 123h6v1h-6zM102 123h23v1h-23zM129 123h1v1h-1zM131 123h3v1h-3zM137 123h3v1h-3zM141 123h1v1h-1zM153 123h1v1h-1zM65 124h10v1h-10zM76 124h6v1h-6zM83 124h9v1h-9zM93 124h4v1h-4zM99 124h4v1h-4zM104 124h5v1h-5zM110 124h7v1h-7zM118 124h1v1h-1zM121 124h4v1h-4zM127 124h2v1h-2zM130 124h1v1h-1zM132 124h2v1h-2zM137 124h4v1h-4zM148 124h1v1h-1zM67 125h14v1h-14zM82 125h1v1h-1zM84 125h4v1h-4zM90 125h4v1h-4zM95 125h5v1h-5zM101 125h8v1h-8zM111 125h1v1h-1zM113 125h2v1h-2zM116 125h7v1h-7zM125 125h1v1h-1zM130 125h5v1h-5zM137 125h4v1h-4zM142 125h4v1h-4zM153 125h1v1h-1zM69 126h7v1h-7zM77 126h6v1h-6zM84 126h9v1h-9zM96 126h9v1h-9zM106 126h2v1h-2zM109 126h15v1h-15zM125 126h1v1h-1zM127 126h2v1h-2zM130 126h2v1h-2zM133 126h1v1h-1zM136 126h1v1h-1zM142 126h2v1h-2zM71 127h3v1h-3zM75 127h17v1h-17zM94 127h1v1h-1zM96 127h2v1h-2zM99 127h4v1h-4zM104 127h4v1h-4zM109 127h6v1h-6zM117 127h7v1h-7zM125 127h1v1h-1zM142 127h1v1h-1zM145 127h2v1h-2zM151 127h1v1h-1zM72 128h20v1h-20zM93 128h10v1h-10zM104 128h4v1h-4zM109 128h6v1h-6zM116 128h3v1h-3zM120 128h3v1h-3zM124 128h4v1h-4zM129 128h2v1h-2zM132 128h1v1h-1zM139 128h2v1h-2zM143 128h1v1h-1zM72 129h5v1h-5zM78 129h11v1h-11zM90 129h8v1h-8zM101 129h9v1h-9zM111 129h5v1h-5zM119 129h9v1h-9zM129 129h2v1h-2zM145 129h1v1h-1zM148 129h1v1h-1zM75 130h15v1h-15zM91 130h7v1h-7zM101 130h3v1h-3zM105 130h11v1h-11zM117 130h4v1h-4zM125 130h1v1h-1zM131 130h2v1h-2zM152 130h1v1h-1zM154 130h1v1h-1zM76 131h11v1h-11zM89 131h1v1h-1zM91 131h11v1h-11zM103 131h1v1h-1zM107 131h2v1h-2zM111 131h2v1h-2zM116 131h2v1h-2zM120 131h3v1h-3zM127 131h1v1h-1zM130 131h2v1h-2zM140 131h1v1h-1zM142 131h1v1h-1zM144 131h2v1h-2zM148 131h1v1h-1zM150 131h1v1h-1zM155 131h1v1h-1zM163 131h1v1h-1zM77 132h4v1h-4zM82 132h30v1h-30zM116 132h3v1h-3zM121 132h2v1h-2zM125 132h1v1h-1zM129 132h1v1h-1zM132 132h3v1h-3zM140 132h3v1h-3zM144 132h2v1h-2zM149 132h1v1h-1zM161 132h1v1h-1zM77 133h14v1h-14zM93 133h4v1h-4zM98 133h1v1h-1zM100 133h16v1h-16zM119 133h4v1h-4zM126 133h1v1h-1zM129 133h2v1h-2zM132 133h1v1h-1zM135 133h1v1h-1zM138 133h5v1h-5zM78 134h13v1h-13zM92 134h6v1h-6zM99 134h3v1h-3zM105 134h1v1h-1zM107 134h5v1h-5zM113 134h5v1h-5zM123 134h2v1h-2zM128 134h4v1h-4zM135 134h2v1h-2zM142 134h2v1h-2zM145 134h1v1h-1zM78 135h10v1h-10zM89 135h2v1h-2zM92 135h3v1h-3zM97 135h1v1h-1zM100 135h2v1h-2zM103 135h5v1h-5zM109 135h2v1h-2zM112 135h5v1h-5zM119 135h1v1h-1zM122 135h3v1h-3zM127 135h1v1h-1zM141 135h1v1h-1zM146 135h2v1h-2zM152 135h2v1h-2zM160 135h1v1h-1zM78 136h4v1h-4zM83 136h5v1h-5zM89 136h2v1h-2zM92 136h5v1h-5zM101 136h7v1h-7zM110 136h6v1h-6zM125 136h1v1h-1zM128 136h1v1h-1zM147 136h1v1h-1zM158 136h1v1h-1zM79 137h13v1h-13zM94 137h2v1h-2zM98 137h2v1h-2zM101 137h1v1h-1zM103 137h2v1h-2zM106 137h2v1h-2zM109 137h2v1h-2zM112 137h4v1h-4zM117 137h3v1h-3zM130 137h2v1h-2zM134 137h1v1h-1zM142 137h1v1h-1zM145 137h3v1h-3zM153 137h1v1h-1zM160 137h1v1h-1zM79 138h10v1h-10zM90 138h15v1h-15zM106 138h5v1h-5zM112 138h6v1h-6zM121 138h1v1h-1zM135 138h1v1h-1zM138 138h1v1h-1zM146 138h1v1h-1zM154 138h2v1h-2zM157 138h1v1h-1zM80 139h11v1h-11zM93 139h7v1h-7zM102 139h2v1h-2zM105 139h1v1h-1zM108 139h2v1h-2zM113 139h5v1h-5zM122 139h1v1h-1zM126 139h2v1h-2zM132 139h1v1h-1zM135 139h1v1h-1zM149 139h2v1h-2zM80 140h9v1h-9zM91 140h2v1h-2zM96 140h1v1h-1zM98 140h14v1h-14zM117 140h1v1h-1zM123 140h2v1h-2zM127 140h4v1h-4zM136 140h2v1h-2zM143 140h1v1h-1zM153 140h2v1h-2zM80 141h21v1h-21zM104 141h1v1h-1zM106 141h2v1h-2zM109 141h1v1h-1zM111 141h1v1h-1zM113 141h1v1h-1zM119 141h2v1h-2zM123 141h2v1h-2zM151 141h1v1h-1zM153 141h2v1h-2zM80 142h14v1h-14zM98 142h2v1h-2zM103 142h3v1h-3zM109 142h2v1h-2zM116 142h1v1h-1zM120 142h3v1h-3zM124 142h2v1h-2zM127 142h2v1h-2zM147 142h1v1h-1zM151 142h3v1h-3zM159 142h1v1h-1zM81 143h4v1h-4zM86 143h8v1h-8zM95 143h4v1h-4zM101 143h1v1h-1zM103 143h1v1h-1zM106 143h1v1h-1zM109 143h3v1h-3zM113 143h1v1h-1zM117 143h1v1h-1zM120 143h2v1h-2zM130 143h3v1h-3zM149 143h2v1h-2zM80 144h6v1h-6zM87 144h1v1h-1zM89 144h1v1h-1zM91 144h4v1h-4zM97 144h4v1h-4zM104 144h1v1h-1zM106 144h5v1h-5zM114 144h2v1h-2zM117 144h1v1h-1zM120 144h2v1h-2zM126 144h2v1h-2zM141 144h2v1h-2zM145 144h1v1h-1zM150 144h2v1h-2zM79 145h12v1h-12zM96 145h5v1h-5zM102 145h3v1h-3zM106 145h4v1h-4zM112 145h4v1h-4zM119 145h3v1h-3zM124 145h2v1h-2zM127 145h2v1h-2zM132 145h1v1h-1zM134 145h1v1h-1zM137 145h1v1h-1zM158 145h1v1h-1zM163 145h2v1h-2zM78 146h8v1h-8zM88 146h2v1h-2zM91 146h11v1h-11zM104 146h4v1h-4zM112 146h1v1h-1zM115 146h1v1h-1zM129 146h1v1h-1zM154 146h2v1h-2zM163 146h2v1h-2zM78 147h11v1h-11zM90 147h8v1h-8zM99 147h3v1h-3zM103 147h4v1h-4zM108 147h2v1h-2zM114 147h2v1h-2zM120 147h1v1h-1zM122 147h3v1h-3zM137 147h1v1h-1zM143 147h1v1h-1zM147 147h1v1h-1zM78 148h9v1h-9zM88 148h2v1h-2zM91 148h7v1h-7zM99 148h3v1h-3zM105 148h2v1h-2zM111 148h1v1h-1zM113 148h2v1h-2zM120 148h2v1h-2zM126 148h5v1h-5zM133 148h1v1h-1zM140 148h2v1h-2zM146 148h1v1h-1zM156 148h1v1h-1zM77 149h6v1h-6zM85 149h5v1h-5zM92 149h1v1h-1zM94 149h2v1h-2zM99 149h5v1h-5zM113 149h1v1h-1zM115 149h4v1h-4zM120 149h4v1h-4zM128 149h3v1h-3zM133 149h2v1h-2zM146 149h1v1h-1zM77 150h7v1h-7zM87 150h8v1h-8zM96 150h3v1h-3zM100 150h4v1h-4zM108 150h2v1h-2zM115 150h2v1h-2zM118 150h5v1h-5zM139 150h2v1h-2zM76 151h10v1h-10zM87 151h7v1h-7zM95 151h1v1h-1zM98 151h4v1h-4zM104 151h1v1h-1zM106 151h1v1h-1zM108 151h2v1h-2zM117 151h7v1h-7zM128 151h1v1h-1zM131 151h1v1h-1zM139 151h2v1h-2zM143 151h2v1h-2zM146 151h2v1h-2zM75 152h7v1h-7zM83 152h3v1h-3zM87 152h2v1h-2zM90 152h11v1h-11zM103 152h1v1h-1zM109 152h3v1h-3zM117 152h1v1h-1zM124 152h1v1h-1zM130 152h1v1h-1zM141 152h1v1h-1zM143 152h1v1h-1zM146 152h2v1h-2zM75 153h6v1h-6zM83 153h3v1h-3zM87 153h1v1h-1zM89 153h1v1h-1zM93 153h2v1h-2zM96 153h2v1h-2zM100 153h1v1h-1zM103 153h1v1h-1zM105 153h3v1h-3zM113 153h2v1h-2zM117 153h2v1h-2zM128 153h2v1h-2zM139 153h1v1h-1zM147 153h1v1h-1zM74 154h9v1h-9zM84 154h1v1h-1zM86 154h5v1h-5zM92 154h1v1h-1zM95 154h7v1h-7zM105 154h2v1h-2zM109 154h1v1h-1zM111 154h2v1h-2zM115 154h2v1h-2zM126 154h1v1h-1zM128 154h2v1h-2zM135 154h2v1h-2zM145 154h1v1h-1zM74 155h2v1h-2zM77 155h4v1h-4zM82 155h4v1h-4zM88 155h9v1h-9zM98 155h2v1h-2zM103 155h1v1h-1zM105 155h1v1h-1zM112 155h3v1h-3zM120 155h2v1h-2zM126 155h2v1h-2zM133 155h4v1h-4zM139 155h1v1h-1zM146 155h1v1h-1zM72 156h18v1h-18zM91 156h1v1h-1zM93 156h4v1h-4zM98 156h2v1h-2zM106 156h1v1h-1zM111 156h1v1h-1zM113 156h2v1h-2zM120 156h2v1h-2zM134 156h1v1h-1zM140 156h1v1h-1zM72 157h14v1h-14zM90 157h2v1h-2zM94 157h3v1h-3zM98 157h2v1h-2zM101 157h2v1h-2zM107 157h1v1h-1zM120 157h1v1h-1zM124 157h1v1h-1zM142 157h1v1h-1zM163 157h1v1h-1zM70 158h17v1h-17zM88 158h1v1h-1zM91 158h1v1h-1zM107 158h1v1h-1zM113 158h3v1h-3zM125 158h1v1h-1zM127 158h1v1h-1zM68 159h3v1h-3zM72 159h8v1h-8zM81 159h2v1h-2zM84 159h3v1h-3zM88 159h2v1h-2zM92 159h1v1h-1zM96 159h2v1h-2zM109 159h2v1h-2zM113 159h3v1h-3zM128 159h1v1h-1zM130 159h2v1h-2zM142 159h1v1h-1zM146 159h1v1h-1zM66 160h6v1h-6zM73 160h12v1h-12zM95 160h1v1h-1zM97 160h1v1h-1zM99 160h1v1h-1zM105 160h1v1h-1zM107 160h2v1h-2zM111 160h2v1h-2zM115 160h1v1h-1zM120 160h1v1h-1zM122 160h1v1h-1zM125 160h2v1h-2zM136 160h2v1h-2zM143 160h1v1h-1zM165 160h1v1h-1zM64 161h17v1h-17zM86 161h3v1h-3zM91 161h2v1h-2zM98 161h1v1h-1zM106 161h2v1h-2zM111 161h1v1h-1zM123 161h1v1h-1zM126 161h1v1h-1zM62 162h12v1h-12zM75 162h3v1h-3zM81 162h9v1h-9zM93 162h2v1h-2zM107 162h1v1h-1zM115 162h1v1h-1zM142 162h1v1h-1zM60 163h19v1h-19zM82 163h2v1h-2zM87 163h4v1h-4zM92 163h2v1h-2zM100 163h1v1h-1zM102 163h1v1h-1zM107 163h2v1h-2zM110 163h4v1h-4zM115 163h1v1h-1zM119 163h2v1h-2zM122 163h1v1h-1zM126 163h1v1h-1zM130 163h2v1h-2zM150 163h1v1h-1zM59 164h16v1h-16zM78 164h1v1h-1zM80 164h1v1h-1zM82 164h3v1h-3zM91 164h3v1h-3zM96 164h1v1h-1zM100 164h2v1h-2zM103 164h1v1h-1zM110 164h2v1h-2zM119 164h2v1h-2zM130 164h2v1h-2zM139 164h2v1h-2zM47 165h15v1h-15zM63 165h2v1h-2zM67 165h2v1h-2zM70 165h5v1h-5zM76 165h5v1h-5zM83 165h1v1h-1zM88 165h7v1h-7zM98 165h2v1h-2zM104 165h2v1h-2zM108 165h3v1h-3zM117 165h2v1h-2zM130 165h2v1h-2zM136 165h1v1h-1zM1 166h69v1h-69zM71 166h10v1h-10zM82 166h4v1h-4zM90 166h6v1h-6zM97 166h2v1h-2zM102 166h3v1h-3zM107 166h6v1h-6zM114 166h2v1h-2zM117 166h2v1h-2zM120 166h2v1h-2zM129 166h2v1h-2zM140 166h2v1h-2zM144 166h1v1h-1zM1 167h67v1h-67zM71 167h5v1h-5zM78 167h3v1h-3zM82 167h2v1h-2zM87 167h2v1h-2zM90 167h2v1h-2zM94 167h1v1h-1zM97 167h4v1h-4zM103 167h2v1h-2zM106 167h3v1h-3zM110 167h1v1h-1zM113 167h4v1h-4zM123 167h1v1h-1zM151 167h1v1h-1zM3 168h2v1h-2zM8 168h2v1h-2zM13 168h4v1h-4zM20 168h2v1h-2zM23 168h2v1h-2zM26 168h2v1h-2zM29 168h3v1h-3zM36 168h2v1h-2zM39 168h3v1h-3zM43 168h2v1h-2zM54 168h2v1h-2zM58 168h2v1h-2zM107 168h2v1h-2z" fill="#000"/>
</g>
<rect x="36" y="20.4" width="86.2" height="86.2" fill="none" stroke="#555" stroke-width="0.8"/>
<rect x="81.7" y="33.3" width="32.8" height="33.4" fill="none" stroke="#000" stroke-width="1.9"/>
<rect x="81.7" y="69.4" width="32.8" height="33.4" fill="none" stroke="#000" stroke-width="1.9"/>
<text x="82.6" y="43.3" font-size="10.2" text-anchor="start" fill="#111" letter-spacing=".5" stroke-width=".1">1.9</text>
<text x="97.6" y="100" font-size="10.2" text-anchor="start" fill="#111" letter-spacing=".5" stroke-width=".1">7.9</text>
<text x="78.5" y="16" font-size="10" text-anchor="middle" fill="#000">PBS</text>
<g transform="translate(130 20) scale(0.5)">
<path d="M51 118 51 119 5 119 5 120 1 120 1 121 1 121 1 122 1 122 1 123 1 123 1 124 1 124 1 125 1 125 1 126 1 126 1 127 1 127 1 128 1 128 1 129 1 129 1 130 1 130 1 131 1 131 1 132 1 132 1 133 1 133 1 134 1 134 1 135 1 135 1 136 1 136 1 137 1 137 1 138 1 138 1 139 1 139 1 140 1 140 1 141 1 141 1 142 1 142 1 143 1 143 1 144 1 144 1 145 1 145 1 146 1 146 1 147 1 147 1 148 1 148 1 149 1 149 1 150 1 150 1 151 1 151 1 152 1 152 1 153 1 153 1 154 1 154 1 155 1 155 1 156 1 156 1 157 1 157 1 158 1 158 1 159 1 159 1 160 1 160 1 161 1 161 1 162 1 162 1 163 1 163 1 164 1 164 1 165 18 165 18 164 55 164 55 163 60 163 60 162 66 162 66 161 72 161 72 160 76 160 76 159 79 159 79 158 81 158 81 157 82 157 82 156 84 156 84 155 85 155 85 154 86 154 86 153 87 153 87 152 88 152 88 151 90 151 90 150 90 150 90 149 91 149 91 148 91 148 91 147 91 147 91 146 91 146 91 145 91 145 91 144 91 144 91 143 91 143 91 142 91 142 91 141 91 141 91 140 92 140 92 139 93 139 93 138 92 138 92 137 92 137 92 136 92 136 92 135 91 135 91 134 91 134 91 133 91 133 91 132 91 132 91 131 90 131 90 130 89 130 89 129 89 129 89 128 89 128 89 127 88 127 88 126 88 126 88 125 87 125 87 124 86 124 86 123 85 123 85 122 83 122 83 121 82 121 82 120 79 120 79 119 71 119 71 118zM3 5h1v1h-1zM4 11h1v1h-1zM162 14h2v1h-2zM3 19h1v1h-1zM139 20h1v1h-1zM134 21h1v1h-1zM162 22h2v1h-2zM3 23h1v1h-1zM5 24h1v1h-1zM138 25h1v1h-1zM153 25h1v1h-1zM162 27h1v1h-1zM134 28h1v1h-1zM122 29h1v1h-1zM152 29h1v1h-1zM156 29h2v1h-2zM163 29h1v1h-1zM122 30h2v1h-2zM125 30h1v1h-1zM148 30h1v1h-1zM167 31h1v1h-1zM110 32h2v1h-2zM120 32h2v1h-2zM129 32h1v1h-1zM137 32h1v1h-1zM145 32h1v1h-1zM154 32h1v1h-1zM157 32h2v1h-2zM169 32h1v1h-1zM140 33h1v1h-1zM143 33h2v1h-2zM157 33h2v1h-2zM136 34h1v1h-1zM143 34h2v1h-2zM117 35h4v1h-4zM164 35h1v1h-1zM4 36h1v1h-1zM117 36h2v1h-2zM123 36h1v1h-1zM128 36h2v1h-2zM135 36h1v1h-1zM139 36h1v1h-1zM154 36h1v1h-1zM162 36h2v1h-2zM117 37h2v1h-2zM136 37h2v1h-2zM38 38h1v1h-1zM136 38h2v1h-2zM143 38h2v1h-2zM147 38h2v1h-2zM4 39h2v1h-2zM52 39h2v1h-2zM117 39h1v1h-1zM134 39h2v1h-2zM145 39h2v1h-2zM3 40h3v1h-3zM123 40h1v1h-1zM138 40h2v1h-2zM141 40h2v1h-2zM103 41h2v1h-2zM118 41h1v1h-1zM121 41h1v1h-1zM130 41h1v1h-1zM83 42h1v1h-1zM133 42h2v1h-2zM141 42h1v1h-1zM148 42h2v1h-2zM164 42h2v1h-2zM98 43h1v1h-1zM118 43h2v1h-2zM148 43h4v1h-4zM163 43h2v1h-2zM129 44h9v1h-9zM150 44h2v1h-2zM82 45h1v1h-1zM112 45h1v1h-1zM119 45h3v1h-3zM124 45h1v1h-1zM136 45h2v1h-2zM139 45h2v1h-2zM145 45h1v1h-1zM149 45h1v1h-1zM151 45h1v1h-1zM153 45h1v1h-1zM160 45h2v1h-2zM103 46h2v1h-2zM120 46h2v1h-2zM127 46h2v1h-2zM130 46h1v1h-1zM133 46h2v1h-2zM139 46h1v1h-1zM141 46h1v1h-1zM146 46h2v1h-2zM153 46h1v1h-1zM156 46h2v1h-2zM113 47h1v1h-1zM122 47h2v1h-2zM127 47h2v1h-2zM135 47h1v1h-1zM143 47h1v1h-1zM145 47h3v1h-3zM153 47h1v1h-1zM164 47h1v1h-1zM57 48h2v1h-2zM115 48h3v1h-3zM120 48h1v1h-1zM122 48h3v1h-3zM132 48h1v1h-1zM136 48h1v1h-1zM142 48h1v1h-1zM145 48h1v1h-1zM149 48h1v1h-1zM57 49h2v1h-2zM62 49h1v1h-1zM83 49h1v1h-1zM108 49h1v1h-1zM116 49h1v1h-1zM123 49h1v1h-1zM125 49h3v1h-3zM135 49h2v1h-2zM155 49h1v1h-1zM158 49h1v1h-1zM103 50h2v1h-2zM118 50h1v1h-1zM123 50h4v1h-4zM128 50h2v1h-2zM133 50h3v1h-3zM138 50h1v1h-1zM143 50h1v1h-1zM145 50h2v1h-2zM3 51h1v1h-1zM50 51h2v1h-2zM95 51h1v1h-1zM103 51h2v1h-2zM116 51h3v1h-3zM121 51h4v1h-4zM128 51h3v1h-3zM136 51h2v1h-2zM158 51h2v1h-2zM168 51h2v1h-2zM33 52h2v1h-2zM111 52h2v1h-2zM117 52h3v1h-3zM132 52h2v1h-2zM135 52h2v1h-2zM138 52h2v1h-2zM141 52h1v1h-1zM150 52h3v1h-3zM160 52h1v1h-1zM168 52h2v1h-2zM88 53h2v1h-2zM98 53h1v1h-1zM105 53h2v1h-2zM112 53h1v1h-1zM117 53h3v1h-3zM124 53h2v1h-2zM132 53h2v1h-2zM135 53h2v1h-2zM143 53h2v1h-2zM150 53h2v1h-2zM156 53h1v1h-1zM17 54h2v1h-2zM110 54h1v1h-1zM123 54h3v1h-3zM129 54h3v1h-3zM133 54h3v1h-3zM142 54h2v1h-2zM145 54h3v1h-3zM150 54h1v1h-1zM152 54h2v1h-2zM162 54h2v1h-2zM84 55h1v1h-1zM86 55h1v1h-1zM108 55h4v1h-4zM123 55h1v1h-1zM125 55h3v1h-3zM135 55h2v1h-2zM139 55h1v1h-1zM142 55h2v1h-2zM145 55h3v1h-3zM151 55h1v1h-1zM153 55h1v1h-1zM105 56h2v1h-2zM108 56h3v1h-3zM112 56h1v1h-1zM118 56h1v1h-1zM122 56h1v1h-1zM124 56h2v1h-2zM129 56h1v1h-1zM133 56h1v1h-1zM135 56h1v1h-1zM144 56h2v1h-2zM147 56h2v1h-2zM157 56h2v1h-2zM88 57h1v1h-1zM105 57h2v1h-2zM119 57h2v1h-2zM123 57h3v1h-3zM127 57h3v1h-3zM138 57h1v1h-1zM142 57h1v1h-1zM148 57h3v1h-3zM106 58h2v1h-2zM117 58h6v1h-6zM125 58h1v1h-1zM127 58h2v1h-2zM132 58h1v1h-1zM135 58h2v1h-2zM138 58h1v1h-1zM146 58h1v1h-1zM148 58h1v1h-1zM157 58h2v1h-2zM100 59h2v1h-2zM108 59h1v1h-1zM111 59h4v1h-4zM116 59h2v1h-2zM124 59h3v1h-3zM128 59h1v1h-1zM130 59h5v1h-5zM137 59h1v1h-1zM142 59h2v1h-2zM50 60h1v1h-1zM91 60h1v1h-1zM97 60h2v1h-2zM102 60h1v1h-1zM107 60h2v1h-2zM113 60h1v1h-1zM117 60h2v1h-2zM120 60h1v1h-1zM126 60h3v1h-3zM137 60h4v1h-4zM144 60h1v1h-1zM148 60h2v1h-2zM157 60h1v1h-1zM163 60h1v1h-1zM78 61h1v1h-1zM96 61h1v1h-1zM106 61h3v1h-3zM123 61h6v1h-6zM131 61h3v1h-3zM136 61h1v1h-1zM140 61h2v1h-2zM151 61h1v1h-1zM155 61h2v1h-2zM94 62h1v1h-1zM127 62h3v1h-3zM135 62h1v1h-1zM137 62h1v1h-1zM146 62h1v1h-1zM148 62h3v1h-3zM155 62h2v1h-2zM158 62h3v1h-3zM166 62h2v1h-2zM108 63h3v1h-3zM119 63h5v1h-5zM131 63h1v1h-1zM138 63h1v1h-1zM145 63h2v1h-2zM148 63h1v1h-1zM153 63h1v1h-1zM163 63h1v1h-1zM13 64h1v1h-1zM97 64h1v1h-1zM102 64h1v1h-1zM112 64h2v1h-2zM118 64h1v1h-1zM122 64h3v1h-3zM131 64h1v1h-1zM133 64h2v1h-2zM137 64h4v1h-4zM156 64h1v1h-1zM80 65h1v1h-1zM91 65h1v1h-1zM104 65h1v1h-1zM112 65h1v1h-1zM117 65h3v1h-3zM121 65h2v1h-2zM125 65h1v1h-1zM128 65h5v1h-5zM136 65h3v1h-3zM140 65h2v1h-2zM149 65h4v1h-4zM162 65h2v1h-2zM4 66h2v1h-2zM93 66h2v1h-2zM97 66h1v1h-1zM103 66h1v1h-1zM114 66h3v1h-3zM130 66h1v1h-1zM132 66h3v1h-3zM144 66h2v1h-2zM147 66h1v1h-1zM150 66h1v1h-1zM81 67h2v1h-2zM93 67h2v1h-2zM101 67h5v1h-5zM108 67h1v1h-1zM112 67h2v1h-2zM117 67h2v1h-2zM126 67h1v1h-1zM129 67h2v1h-2zM141 67h1v1h-1zM150 67h2v1h-2zM161 67h2v1h-2zM45 68h1v1h-1zM72 68h1v1h-1zM89 68h2v1h-2zM95 68h2v1h-2zM101 68h1v1h-1zM103 68h4v1h-4zM110 68h2v1h-2zM116 68h1v1h-1zM120 68h2v1h-2zM123 68h2v1h-2zM126 68h1v1h-1zM132 68h2v1h-2zM150 68h2v1h-2zM155 68h1v1h-1zM158 68h1v1h-1zM9 69h2v1h-2zM36 69h2v1h-2zM89 69h2v1h-2zM100 69h3v1h-3zM108 69h2v1h-2zM113 69h1v1h-1zM118 69h3v1h-3zM122 69h2v1h-2zM126 69h1v1h-1zM133 69h1v1h-1zM138 69h1v1h-1zM140 69h2v1h-2zM148 69h1v1h-1zM155 69h1v1h-1zM45 70h1v1h-1zM70 70h4v1h-4zM95 70h1v1h-1zM98 70h4v1h-4zM109 70h2v1h-2zM113 70h2v1h-2zM119 70h1v1h-1zM122 70h1v1h-1zM132 70h3v1h-3zM136 70h3v1h-3zM140 70h2v1h-2zM148 70h4v1h-4zM30 71h2v1h-2zM39 71h1v1h-1zM63 71h2v1h-2zM68 71h2v1h-2zM98 71h1v1h-1zM100 71h3v1h-3zM107 71h1v1h-1zM109 71h4v1h-4zM127 71h1v1h-1zM132 71h2v1h-2zM136 71h2v1h-2zM141 71h1v1h-1zM21 72h1v1h-1zM29 72h1v1h-1zM63 72h2v1h-2zM80 72h1v1h-1zM89 72h3v1h-3zM109 72h4v1h-4zM119 72h1v1h-1zM121 72h1v1h-1zM125 72h1v1h-1zM127 72h1v1h-1zM137 72h3v1h-3zM141 72h1v1h-1zM145 72h1v1h-1zM152 72h1v1h-1zM36 73h1v1h-1zM52 73h2v1h-2zM81 73h1v1h-1zM90 73h3v1h-3zM94 73h1v1h-1zM103 73h6v1h-6zM111 73h1v1h-1zM114 73h2v1h-2zM117 73h6v1h-6zM125 73h2v1h-2zM128 73h3v1h-3zM141 73h1v1h-1zM143 73h2v1h-2zM20 74h1v1h-1zM25 74h2v1h-2zM32 74h2v1h-2zM49 74h1v1h-1zM52 74h3v1h-3zM88 74h2v1h-2zM95 74h1v1h-1zM102 74h2v1h-2zM105 74h5v1h-5zM112 74h1v1h-1zM114 74h2v1h-2zM118 74h3v1h-3zM122 74h1v1h-1zM124 74h1v1h-1zM126 74h3v1h-3zM136 74h2v1h-2zM144 74h2v1h-2zM167 74h1v1h-1zM21 75h2v1h-2zM68 75h2v1h-2zM76 75h2v1h-2zM82 75h1v1h-1zM87 75h3v1h-3zM92 75h2v1h-2zM97 75h2v1h-2zM103 75h1v1h-1zM105 75h1v1h-1zM118 75h3v1h-3zM123 75h1v1h-1zM127 75h1v1h-1zM133 75h1v1h-1zM144 75h1v1h-1zM165 75h3v1h-3zM68 76h2v1h-2zM78 76h1v1h-1zM82 76h4v1h-4zM88 76h1v1h-1zM92 76h2v1h-2zM96 76h1v1h-1zM99 76h1v1h-1zM105 76h6v1h-6zM112 76h4v1h-4zM119 76h2v1h-2zM130 76h1v1h-1zM132 76h1v1h-1zM146 76h1v1h-1zM150 76h1v1h-1zM161 76h1v1h-1zM164 76h1v1h-1zM166 76h2v1h-2zM7 77h2v1h-2zM86 77h2v1h-2zM93 77h1v1h-1zM102 77h7v1h-7zM112 77h5v1h-5zM119 77h2v1h-2zM122 77h1v1h-1zM125 77h2v1h-2zM129 77h2v1h-2zM140 77h1v1h-1zM143 77h1v1h-1zM4 78h1v1h-1zM7 78h2v1h-2zM19 78h1v1h-1zM49 78h2v1h-2zM67 78h1v1h-1zM98 78h5v1h-5zM106 78h1v1h-1zM110 78h1v1h-1zM114 78h2v1h-2zM119 78h3v1h-3zM134 78h1v1h-1zM155 78h1v1h-1zM7 79h2v1h-2zM70 79h2v1h-2zM84 79h3v1h-3zM89 79h4v1h-4zM96 79h2v1h-2zM103 79h1v1h-1zM105 79h2v1h-2zM111 79h1v1h-1zM114 79h1v1h-1zM118 79h1v1h-1zM122 79h2v1h-2zM133 79h1v1h-1zM137 79h1v1h-1zM141 79h4v1h-4zM161 79h1v1h-1zM4 80h2v1h-2zM9 80h1v1h-1zM14 80h1v1h-1zM46 80h1v1h-1zM59 80h1v1h-1zM81 80h1v1h-1zM84 80h3v1h-3zM90 80h2v1h-2zM94 80h1v1h-1zM105 80h1v1h-1zM108 80h2v1h-2zM111 80h1v1h-1zM116 80h9v1h-9zM141 80h4v1h-4zM3 81h2v1h-2zM17 81h1v1h-1zM37 81h1v1h-1zM40 81h1v1h-1zM68 81h2v1h-2zM86 81h3v1h-3zM90 81h1v1h-1zM94 81h4v1h-4zM106 81h2v1h-2zM110 81h2v1h-2zM114 81h2v1h-2zM118 81h2v1h-2zM127 81h2v1h-2zM143 81h1v1h-1zM145 81h2v1h-2zM59 82h2v1h-2zM74 82h2v1h-2zM81 82h2v1h-2zM86 82h2v1h-2zM90 82h4v1h-4zM98 82h1v1h-1zM108 82h2v1h-2zM112 82h2v1h-2zM118 82h2v1h-2zM121 82h4v1h-4zM129 82h1v1h-1zM140 82h2v1h-2zM153 82h1v1h-1zM5 83h2v1h-2zM15 83h1v1h-1zM18 83h2v1h-2zM21 83h1v1h-1zM23 83h1v1h-1zM34 83h1v1h-1zM38 83h3v1h-3zM64 83h1v1h-1zM81 83h1v1h-1zM84 83h2v1h-2zM89 83h3v1h-3zM96 83h1v1h-1zM101 83h2v1h-2zM104 83h1v1h-1zM106 83h2v1h-2zM110 83h1v1h-1zM112 83h2v1h-2zM116 83h1v1h-1zM118 83h3v1h-3zM122 83h3v1h-3zM128 83h1v1h-1zM167 83h2v1h-2zM18 84h2v1h-2zM23 84h1v1h-1zM33 84h1v1h-1zM46 84h1v1h-1zM61 84h1v1h-1zM69 84h2v1h-2zM74 84h1v1h-1zM78 84h2v1h-2zM83 84h1v1h-1zM87 84h1v1h-1zM91 84h1v1h-1zM94 84h1v1h-1zM96 84h2v1h-2zM101 84h2v1h-2zM105 84h4v1h-4zM113 84h2v1h-2zM124 84h1v1h-1zM127 84h1v1h-1zM136 84h1v1h-1zM167 84h2v1h-2zM9 85h1v1h-1zM11 85h3v1h-3zM15 85h2v1h-2zM22 85h1v1h-1zM34 85h3v1h-3zM43 85h3v1h-3zM55 85h1v1h-1zM75 85h3v1h-3zM83 85h2v1h-2zM92 85h1v1h-1zM97 85h2v1h-2zM106 85h2v1h-2zM110 85h2v1h-2zM114 85h2v1h-2zM119 85h1v1h-1zM124 85h3v1h-3zM135 85h2v1h-2zM140 85h2v1h-2zM5 86h3v1h-3zM14 86h1v1h-1zM22 86h3v1h-3zM30 86h2v1h-2zM40 86h2v1h-2zM45 86h2v1h-2zM50 86h1v1h-1zM54 86h1v1h-1zM61 86h3v1h-3zM70 86h2v1h-2zM79 86h6v1h-6zM87 86h2v1h-2zM92 86h1v1h-1zM97 86h3v1h-3zM101 86h1v1h-1zM104 86h1v1h-1zM106 86h1v1h-1zM108 86h4v1h-4zM114 86h2v1h-2zM121 86h1v1h-1zM125 86h2v1h-2zM5 87h2v1h-2zM20 87h3v1h-3zM30 87h2v1h-2zM42 87h1v1h-1zM44 87h1v1h-1zM62 87h2v1h-2zM65 87h1v1h-1zM67 87h1v1h-1zM73 87h1v1h-1zM79 87h5v1h-5zM90 87h4v1h-4zM100 87h2v1h-2zM110 87h2v1h-2zM121 87h1v1h-1zM127 87h1v1h-1zM138 87h1v1h-1zM8 88h2v1h-2zM52 88h1v1h-1zM68 88h1v1h-1zM70 88h2v1h-2zM79 88h2v1h-2zM92 88h3v1h-3zM96 88h1v1h-1zM100 88h2v1h-2zM106 88h2v1h-2zM116 88h2v1h-2zM126 88h1v1h-1zM131 88h1v1h-1zM169 88h2v1h-2zM6 89h4v1h-4zM11 89h3v1h-3zM22 89h1v1h-1zM27 89h3v1h-3zM32 89h1v1h-1zM34 89h1v1h-1zM37 89h1v1h-1zM44 89h1v1h-1zM46 89h3v1h-3zM57 89h1v1h-1zM68 89h1v1h-1zM83 89h1v1h-1zM93 89h1v1h-1zM95 89h3v1h-3zM100 89h2v1h-2zM106 89h2v1h-2zM120 89h4v1h-4zM132 89h1v1h-1zM17 90h1v1h-1zM24 90h2v1h-2zM28 90h2v1h-2zM35 90h1v1h-1zM40 90h2v1h-2zM54 90h2v1h-2zM64 90h1v1h-1zM68 90h1v1h-1zM71 90h1v1h-1zM77 90h3v1h-3zM87 90h1v1h-1zM89 90h3v1h-3zM95 90h2v1h-2zM100 90h1v1h-1zM106 90h5v1h-5zM114 90h1v1h-1zM116 90h1v1h-1zM118 90h3v1h-3zM126 90h3v1h-3zM145 90h2v1h-2zM3 91h2v1h-2zM10 91h1v1h-1zM20 91h1v1h-1zM25 91h1v1h-1zM30 91h3v1h-3zM38 91h1v1h-1zM41 91h2v1h-2zM53 91h2v1h-2zM76 91h1v1h-1zM82 91h1v1h-1zM89 91h1v1h-1zM95 91h2v1h-2zM98 91h1v1h-1zM102 91h1v1h-1zM106 91h1v1h-1zM109 91h3v1h-3zM7 92h2v1h-2zM15 92h2v1h-2zM18 92h2v1h-2zM45 92h1v1h-1zM53 92h2v1h-2zM56 92h3v1h-3zM74 92h2v1h-2zM80 92h1v1h-1zM83 92h1v1h-1zM86 92h1v1h-1zM88 92h1v1h-1zM94 92h1v1h-1zM106 92h1v1h-1zM110 92h2v1h-2zM113 92h3v1h-3zM124 92h2v1h-2zM129 92h1v1h-1zM135 92h1v1h-1zM15 93h3v1h-3zM19 93h2v1h-2zM26 93h2v1h-2zM31 93h1v1h-1zM43 93h1v1h-1zM45 93h1v1h-1zM47 93h2v1h-2zM51 93h3v1h-3zM55 93h1v1h-1zM58 93h2v1h-2zM62 93h4v1h-4zM67 93h1v1h-1zM73 93h2v1h-2zM80 93h2v1h-2zM86 93h1v1h-1zM90 93h3v1h-3zM97 93h2v1h-2zM112 93h2v1h-2zM117 93h1v1h-1zM120 93h3v1h-3zM124 93h2v1h-2zM141 93h1v1h-1zM13 94h2v1h-2zM19 94h2v1h-2zM27 94h1v1h-1zM35 94h1v1h-1zM41 94h3v1h-3zM47 94h2v1h-2zM50 94h3v1h-3zM61 94h6v1h-6zM70 94h3v1h-3zM78 94h6v1h-6zM88 94h1v1h-1zM91 94h4v1h-4zM96 94h2v1h-2zM100 94h1v1h-1zM105 94h5v1h-5zM114 94h2v1h-2zM132 94h1v1h-1zM16 95h2v1h-2zM29 95h1v1h-1zM34 95h1v1h-1zM39 95h3v1h-3zM47 95h1v1h-1zM50 95h1v1h-1zM54 95h3v1h-3zM59 95h4v1h-4zM65 95h2v1h-2zM71 95h2v1h-2zM74 95h1v1h-1zM78 95h1v1h-1zM82 95h2v1h-2zM93 95h2v1h-2zM96 95h2v1h-2zM104 95h3v1h-3zM108 95h2v1h-2zM113 95h2v1h-2zM132 95h1v1h-1zM134 95h1v1h-1zM5 96h1v1h-1zM12 96h1v1h-1zM22 96h4v1h-4zM29 96h2v1h-2zM32 96h1v1h-1zM36 96h1v1h-1zM40 96h1v1h-1zM44 96h2v1h-2zM47 96h1v1h-1zM50 96h1v1h-1zM52 96h5v1h-5zM61 96h1v1h-1zM65 96h4v1h-4zM75 96h2v1h-2zM84 96h1v1h-1zM87 96h1v1h-1zM91 96h3v1h-3zM97 96h1v1h-1zM99 96h4v1h-4zM116 96h2v1h-2zM5 97h1v1h-1zM16 97h2v1h-2zM25 97h7v1h-7zM37 97h2v1h-2zM41 97h5v1h-5zM49 97h1v1h-1zM52 97h2v1h-2zM56 97h2v1h-2zM60 97h5v1h-5zM67 97h1v1h-1zM69 97h1v1h-1zM74 97h2v1h-2zM81 97h2v1h-2zM87 97h1v1h-1zM89 97h2v1h-2zM94 97h1v1h-1zM99 97h2v1h-2zM108 97h3v1h-3zM116 97h1v1h-1zM118 97h2v1h-2zM126 97h3v1h-3zM130 97h1v1h-1zM135 97h1v1h-1zM4 98h1v1h-1zM27 98h3v1h-3zM32 98h2v1h-2zM38 98h1v1h-1zM40 98h5v1h-5zM47 98h2v1h-2zM56 98h2v1h-2zM59 98h1v1h-1zM69 98h3v1h-3zM75 98h2v1h-2zM83 98h2v1h-2zM92 98h1v1h-1zM96 98h1v1h-1zM100 98h4v1h-4zM105 98h1v1h-1zM107 98h3v1h-3zM118 98h2v1h-2zM127 98h2v1h-2zM131 98h1v1h-1zM16 99h1v1h-1zM20 99h2v1h-2zM25 99h2v1h-2zM28 99h2v1h-2zM31 99h3v1h-3zM35 99h2v1h-2zM38 99h1v1h-1zM46 99h1v1h-1zM48 99h3v1h-3zM55 99h2v1h-2zM59 99h1v1h-1zM61 99h1v1h-1zM65 99h2v1h-2zM70 99h1v1h-1zM75 99h1v1h-1zM78 99h1v1h-1zM80 99h1v1h-1zM83 99h2v1h-2zM87 99h1v1h-1zM91 99h2v1h-2zM94 99h1v1h-1zM96 99h1v1h-1zM100 99h5v1h-5zM106 99h4v1h-4zM112 99h3v1h-3zM128 99h2v1h-2zM136 99h1v1h-1zM147 99h1v1h-1zM14 100h3v1h-3zM22 100h1v1h-1zM25 100h2v1h-2zM28 100h2v1h-2zM38 100h1v1h-1zM41 100h1v1h-1zM46 100h3v1h-3zM55 100h3v1h-3zM61 100h5v1h-5zM73 100h14v1h-14zM88 100h1v1h-1zM93 100h2v1h-2zM98 100h1v1h-1zM101 100h2v1h-2zM107 100h4v1h-4zM113 100h1v1h-1zM122 100h1v1h-1zM150 100h1v1h-1zM152 100h1v1h-1zM3 101h1v1h-1zM21 101h3v1h-3zM25 101h1v1h-1zM27 101h1v1h-1zM30 101h3v1h-3zM36 101h3v1h-3zM40 101h1v1h-1zM42 101h1v1h-1zM46 101h1v1h-1zM52 101h6v1h-6zM60 101h2v1h-2zM63 101h2v1h-2zM67 101h2v1h-2zM70 101h1v1h-1zM76 101h7v1h-7zM84 101h1v1h-1zM86 101h1v1h-1zM92 101h13v1h-13zM106 101h1v1h-1zM109 101h1v1h-1zM118 101h2v1h-2zM122 101h2v1h-2zM168 101h1v1h-1zM4 102h1v1h-1zM6 102h2v1h-2zM9 102h2v1h-2zM13 102h1v1h-1zM15 102h2v1h-2zM19 102h4v1h-4zM25 102h3v1h-3zM29 102h1v1h-1zM31 102h2v1h-2zM34 102h1v1h-1zM36 102h2v1h-2zM50 102h5v1h-5zM56 102h1v1h-1zM58 102h2v1h-2zM62 102h2v1h-2zM65 102h1v1h-1zM67 102h1v1h-1zM69 102h1v1h-1zM74 102h2v1h-2zM77 102h1v1h-1zM83 102h6v1h-6zM90 102h8v1h-8zM103 102h2v1h-2zM107 102h1v1h-1zM109 102h4v1h-4zM114 102h1v1h-1zM122 102h2v1h-2zM131 102h2v1h-2zM137 102h1v1h-1zM3 103h1v1h-1zM17 103h1v1h-1zM24 103h5v1h-5zM34 103h4v1h-4zM39 103h1v1h-1zM50 103h4v1h-4zM56 103h2v1h-2zM61 103h1v1h-1zM63 103h1v1h-1zM65 103h2v1h-2zM73 103h3v1h-3zM77 103h2v1h-2zM80 103h4v1h-4zM85 103h2v1h-2zM88 103h1v1h-1zM90 103h3v1h-3zM94 103h19v1h-19zM114 103h1v1h-1zM118 103h2v1h-2zM123 103h1v1h-1zM4 104h2v1h-2zM9 104h3v1h-3zM13 104h2v1h-2zM22 104h3v1h-3zM29 104h1v1h-1zM31 104h1v1h-1zM38 104h1v1h-1zM40 104h5v1h-5zM48 104h6v1h-6zM63 104h4v1h-4zM69 104h1v1h-1zM74 104h2v1h-2zM77 104h2v1h-2zM81 104h9v1h-9zM91 104h6v1h-6zM100 104h4v1h-4zM105 104h1v1h-1zM108 104h2v1h-2zM117 104h4v1h-4zM134 104h2v1h-2zM3 105h3v1h-3zM7 105h1v1h-1zM11 105h1v1h-1zM26 105h2v1h-2zM45 105h2v1h-2zM50 105h2v1h-2zM55 105h1v1h-1zM62 105h1v1h-1zM65 105h2v1h-2zM68 105h1v1h-1zM70 105h2v1h-2zM75 105h4v1h-4zM84 105h8v1h-8zM93 105h3v1h-3zM97 105h15v1h-15zM113 105h1v1h-1zM116 105h4v1h-4zM129 105h1v1h-1zM7 106h2v1h-2zM11 106h1v1h-1zM15 106h1v1h-1zM17 106h2v1h-2zM21 106h1v1h-1zM24 106h1v1h-1zM26 106h5v1h-5zM39 106h1v1h-1zM45 106h3v1h-3zM50 106h2v1h-2zM53 106h4v1h-4zM59 106h2v1h-2zM62 106h1v1h-1zM68 106h1v1h-1zM70 106h2v1h-2zM74 106h34v1h-34zM109 106h6v1h-6zM126 106h2v1h-2zM129 106h1v1h-1zM136 106h1v1h-1zM146 106h2v1h-2zM169 106h1v1h-1zM3 107h4v1h-4zM9 107h1v1h-1zM19 107h2v1h-2zM29 107h4v1h-4zM34 107h5v1h-5zM42 107h1v1h-1zM44 107h4v1h-4zM50 107h1v1h-1zM53 107h4v1h-4zM60 107h4v1h-4zM65 107h2v1h-2zM68 107h4v1h-4zM73 107h1v1h-1zM76 107h8v1h-8zM85 107h2v1h-2zM88 107h9v1h-9zM98 107h5v1h-5zM104 107h3v1h-3zM108 107h4v1h-4zM113 107h1v1h-1zM118 107h2v1h-2zM123 107h1v1h-1zM125 107h2v1h-2zM141 107h2v1h-2zM147 107h1v1h-1zM163 107h1v1h-1zM5 108h4v1h-4zM10 108h4v1h-4zM16 108h5v1h-5zM22 108h3v1h-3zM30 108h1v1h-1zM32 108h5v1h-5zM41 108h5v1h-5zM51 108h3v1h-3zM55 108h1v1h-1zM57 108h3v1h-3zM62 108h3v1h-3zM68 108h3v1h-3zM72 108h4v1h-4zM82 108h1v1h-1zM85 108h23v1h-23zM109 108h2v1h-2zM112 108h1v1h-1zM115 108h5v1h-5zM125 108h2v1h-2zM128 108h2v1h-2zM140 108h1v1h-1zM145 108h1v1h-1zM3 109h2v1h-2zM8 109h1v1h-1zM13 109h2v1h-2zM16 109h3v1h-3zM20 109h1v1h-1zM22 109h1v1h-1zM24 109h3v1h-3zM29 109h1v1h-1zM32 109h1v1h-1zM36 109h3v1h-3zM41 109h3v1h-3zM47 109h1v1h-1zM51 109h2v1h-2zM54 109h1v1h-1zM57 109h1v1h-1zM60 109h2v1h-2zM63 109h3v1h-3zM67 109h7v1h-7zM76 109h1v1h-1zM78 109h1v1h-1zM81 109h1v1h-1zM84 109h12v1h-12zM97 109h16v1h-16zM115 109h5v1h-5zM122 109h1v1h-1zM169 109h2v1h-2zM3 110h1v1h-1zM5 110h3v1h-3zM10 110h2v1h-2zM17 110h1v1h-1zM19 110h5v1h-5zM27 110h5v1h-5zM34 110h2v1h-2zM39 110h4v1h-4zM46 110h3v1h-3zM50 110h2v1h-2zM53 110h3v1h-3zM57 110h5v1h-5zM63 110h5v1h-5zM69 110h3v1h-3zM73 110h3v1h-3zM78 110h10v1h-10zM89 110h6v1h-6zM96 110h25v1h-25zM124 110h1v1h-1zM131 110h2v1h-2zM135 110h1v1h-1zM137 110h1v1h-1zM143 110h2v1h-2zM3 111h1v1h-1zM7 111h2v1h-2zM12 111h1v1h-1zM16 111h1v1h-1zM18 111h11v1h-11zM30 111h7v1h-7zM40 111h2v1h-2zM43 111h2v1h-2zM46 111h1v1h-1zM49 111h2v1h-2zM52 111h1v1h-1zM54 111h15v1h-15zM72 111h1v1h-1zM74 111h4v1h-4zM80 111h6v1h-6zM87 111h18v1h-18zM106 111h3v1h-3zM110 111h3v1h-3zM115 111h3v1h-3zM119 111h4v1h-4zM160 111h1v1h-1zM3 112h1v1h-1zM8 112h5v1h-5zM15 112h1v1h-1zM17 112h4v1h-4zM22 112h3v1h-3zM30 112h3v1h-3zM34 112h5v1h-5zM40 112h2v1h-2zM44 112h5v1h-5zM51 112h12v1h-12zM64 112h3v1h-3zM68 112h7v1h-7zM76 112h2v1h-2zM79 112h8v1h-8zM88 112h26v1h-26zM115 112h3v1h-3zM122 112h3v1h-3zM127 112h3v1h-3zM131 112h1v1h-1zM143 112h2v1h-2zM154 112h1v1h-1zM3 113h2v1h-2zM6 113h1v1h-1zM10 113h1v1h-1zM13 113h3v1h-3zM17 113h1v1h-1zM20 113h13v1h-13zM34 113h6v1h-6zM43 113h2v1h-2zM46 113h19v1h-19zM67 113h9v1h-9zM77 113h37v1h-37zM116 113h4v1h-4zM122 113h3v1h-3zM126 113h1v1h-1zM128 113h1v1h-1zM131 113h1v1h-1zM135 113h1v1h-1zM140 113h1v1h-1zM143 113h2v1h-2zM146 113h1v1h-1zM3 114h4v1h-4zM8 114h4v1h-4zM14 114h1v1h-1zM16 114h2v1h-2zM19 114h2v1h-2zM22 114h2v1h-2zM25 114h1v1h-1zM27 114h8v1h-8zM36 114h20v1h-20zM59 114h2v1h-2zM62 114h1v1h-1zM64 114h5v1h-5zM70 114h19v1h-19zM90 114h8v1h-8zM99 114h9v1h-9zM109 114h12v1h-12zM133 114h4v1h-4zM3 115h5v1h-5zM14 115h1v1h-1zM16 115h2v1h-2zM19 115h3v1h-3zM24 115h9v1h-9zM35 115h6v1h-6zM43 115h9v1h-9zM53 115h26v1h-26zM80 115h24v1h-24zM105 115h9v1h-9zM115 115h6v1h-6zM123 115h6v1h-6zM138 115h4v1h-4zM3 116h7v1h-7zM11 116h52v1h-52zM64 116h12v1h-12zM77 116h2v1h-2zM80 116h7v1h-7zM88 116h23v1h-23zM113 116h12v1h-12zM127 116h1v1h-1zM134 116h3v1h-3zM138 116h4v1h-4zM146 116h1v1h-1zM161 116h1v1h-1zM3 117h11v1h-11zM15 117h11v1h-11zM27 117h76v1h-76zM104 117h12v1h-12zM117 117h3v1h-3zM121 117h2v1h-2zM131 117h5v1h-5zM144 117h2v1h-2zM3 118h4v1h-4zM9 118h23v1h-23zM33 118h18v1h-18zM71 118h12v1h-12zM84 118h8v1h-8zM93 118h2v1h-2zM96 118h18v1h-18zM115 118h4v1h-4zM120 118h4v1h-4zM125 118h1v1h-1zM127 118h3v1h-3zM133 118h2v1h-2zM138 118h1v1h-1zM3 119h2v1h-2zM79 119h18v1h-18zM98 119h10v1h-10zM109 119h10v1h-10zM120 119h3v1h-3zM125 119h1v1h-1zM127 119h2v1h-2zM132 119h2v1h-2zM136 119h1v1h-1zM138 119h1v1h-1zM82 120h30v1h-30zM113 120h8v1h-8zM132 120h3v1h-3zM137 120h3v1h-3zM145 120h1v1h-1zM149 120h1v1h-1zM159 120h2v1h-2zM167 120h1v1h-1zM83 121h11v1h-11zM95 121h2v1h-2zM98 121h15v1h-15zM114 121h7v1h-7zM124 121h1v1h-1zM128 121h2v1h-2zM131 121h1v1h-1zM138 121h2v1h-2zM85 122h9v1h-9zM95 122h11v1h-11zM107 122h7v1h-7zM116 122h3v1h-3zM120 122h1v1h-1zM125 122h1v1h-1zM128 122h2v1h-2zM133 122h1v1h-1zM137 122h2v1h-2zM144 122h3v1h-3zM149 122h1v1h-1zM152 122h2v1h-2zM86 123h30v1h-30zM117 123h1v1h-1zM123 123h1v1h-1zM126 123h1v1h-1zM132 123h1v1h-1zM139 123h3v1h-3zM149 123h2v1h-2zM156 123h2v1h-2zM87 124h8v1h-8zM96 124h16v1h-16zM113 124h2v1h-2zM117 124h2v1h-2zM121 124h1v1h-1zM123 124h1v1h-1zM129 124h3v1h-3zM138 124h1v1h-1zM88 125h15v1h-15zM104 125h6v1h-6zM111 125h3v1h-3zM115 125h1v1h-1zM118 125h3v1h-3zM123 125h1v1h-1zM125 125h1v1h-1zM128 125h1v1h-1zM145 125h2v1h-2zM152 125h2v1h-2zM161 125h2v1h-2zM88 126h15v1h-15zM104 126h4v1h-4zM110 126h2v1h-2zM113 126h9v1h-9zM126 126h2v1h-2zM146 126h2v1h-2zM153 126h2v1h-2zM89 127h14v1h-14zM104 127h11v1h-11zM117 127h1v1h-1zM121 127h1v1h-1zM123 127h2v1h-2zM127 127h1v1h-1zM130 127h1v1h-1zM137 127h1v1h-1zM143 127h1v1h-1zM145 127h2v1h-2zM153 127h1v1h-1zM166 127h1v1h-1zM89 128h25v1h-25zM120 128h1v1h-1zM123 128h2v1h-2zM126 128h1v1h-1zM129 128h2v1h-2zM142 128h1v1h-1zM146 128h3v1h-3zM89 129h11v1h-11zM101 129h8v1h-8zM110 129h2v1h-2zM114 129h3v1h-3zM118 129h3v1h-3zM123 129h1v1h-1zM129 129h4v1h-4zM137 129h3v1h-3zM90 130h22v1h-22zM113 130h1v1h-1zM115 130h5v1h-5zM121 130h1v1h-1zM123 130h1v1h-1zM125 130h6v1h-6zM132 130h1v1h-1zM135 130h1v1h-1zM143 130h2v1h-2zM91 131h13v1h-13zM105 131h3v1h-3zM109 131h2v1h-2zM116 131h3v1h-3zM120 131h1v1h-1zM123 131h1v1h-1zM125 131h2v1h-2zM128 131h2v1h-2zM132 131h1v1h-1zM140 131h1v1h-1zM143 131h2v1h-2zM146 131h1v1h-1zM91 132h11v1h-11zM104 132h8v1h-8zM114 132h1v1h-1zM116 132h3v1h-3zM120 132h3v1h-3zM124 132h2v1h-2zM127 132h1v1h-1zM131 132h3v1h-3zM138 132h1v1h-1zM141 132h2v1h-2zM91 133h10v1h-10zM102 133h6v1h-6zM109 133h1v1h-1zM111 133h1v1h-1zM114 133h1v1h-1zM116 133h4v1h-4zM122 133h1v1h-1zM125 133h2v1h-2zM143 133h2v1h-2zM151 133h2v1h-2zM91 134h16v1h-16zM110 134h1v1h-1zM113 134h5v1h-5zM119 134h1v1h-1zM121 134h5v1h-5zM134 134h1v1h-1zM140 134h1v1h-1zM145 134h1v1h-1zM149 134h1v1h-1zM153 134h2v1h-2zM92 135h3v1h-3zM96 135h6v1h-6zM103 135h8v1h-8zM112 135h1v1h-1zM114 135h4v1h-4zM119 135h1v1h-1zM121 135h3v1h-3zM92 136h12v1h-12zM105 136h5v1h-5zM117 136h2v1h-2zM125 136h3v1h-3zM134 136h4v1h-4zM141 136h1v1h-1zM154 136h1v1h-1zM92 137h11v1h-11zM104 137h7v1h-7zM117 137h1v1h-1zM121 137h3v1h-3zM126 137h1v1h-1zM128 137h1v1h-1zM136 137h2v1h-2zM146 137h1v1h-1zM160 137h2v1h-2zM93 138h10v1h-10zM105 138h6v1h-6zM113 138h3v1h-3zM120 138h1v1h-1zM123 138h1v1h-1zM126 138h4v1h-4zM138 138h1v1h-1zM146 138h1v1h-1zM151 138h5v1h-5zM160 138h2v1h-2zM92 139h11v1h-11zM104 139h1v1h-1zM106 139h3v1h-3zM114 139h4v1h-4zM126 139h1v1h-1zM133 139h1v1h-1zM136 139h1v1h-1zM154 139h2v1h-2zM91 140h3v1h-3zM95 140h16v1h-16zM112 140h2v1h-2zM115 140h1v1h-1zM119 140h5v1h-5zM130 140h3v1h-3zM136 140h1v1h-1zM138 140h1v1h-1zM155 140h2v1h-2zM91 141h10v1h-10zM103 141h1v1h-1zM106 141h1v1h-1zM110 141h4v1h-4zM119 141h1v1h-1zM125 141h2v1h-2zM129 141h2v1h-2zM132 141h2v1h-2zM146 141h2v1h-2zM168 141h1v1h-1zM91 142h9v1h-9zM101 142h6v1h-6zM108 142h1v1h-1zM113 142h1v1h-1zM116 142h2v1h-2zM120 142h1v1h-1zM128 142h3v1h-3zM135 142h2v1h-2zM142 142h1v1h-1zM144 142h2v1h-2zM148 142h1v1h-1zM153 142h2v1h-2zM91 143h16v1h-16zM109 143h2v1h-2zM113 143h1v1h-1zM115 143h1v1h-1zM120 143h2v1h-2zM126 143h1v1h-1zM132 143h3v1h-3zM136 143h1v1h-1zM143 143h4v1h-4zM159 143h2v1h-2zM164 143h1v1h-1zM91 144h10v1h-10zM102 144h2v1h-2zM108 144h4v1h-4zM121 144h1v1h-1zM123 144h2v1h-2zM127 144h2v1h-2zM133 144h2v1h-2zM146 144h1v1h-1zM148 144h1v1h-1zM153 144h1v1h-1zM165 144h1v1h-1zM91 145h13v1h-13zM106 145h2v1h-2zM110 145h2v1h-2zM114 145h1v1h-1zM118 145h1v1h-1zM121 145h1v1h-1zM124 145h1v1h-1zM129 145h1v1h-1zM139 145h2v1h-2zM153 145h1v1h-1zM158 145h2v1h-2zM91 146h8v1h-8zM101 146h2v1h-2zM105 146h2v1h-2zM110 146h3v1h-3zM115 146h6v1h-6zM122 146h1v1h-1zM128 146h5v1h-5zM137 146h1v1h-1zM148 146h2v1h-2zM156 146h2v1h-2zM91 147h8v1h-8zM100 147h1v1h-1zM103 147h5v1h-5zM111 147h7v1h-7zM122 147h2v1h-2zM126 147h1v1h-1zM130 147h1v1h-1zM133 147h2v1h-2zM144 147h1v1h-1zM148 147h2v1h-2zM91 148h6v1h-6zM98 148h6v1h-6zM105 148h2v1h-2zM108 148h1v1h-1zM112 148h4v1h-4zM118 148h2v1h-2zM121 148h2v1h-2zM154 148h2v1h-2zM90 149h7v1h-7zM98 149h3v1h-3zM102 149h2v1h-2zM107 149h4v1h-4zM112 149h4v1h-4zM117 149h1v1h-1zM119 149h2v1h-2zM135 149h3v1h-3zM141 149h2v1h-2zM154 149h4v1h-4zM90 150h12v1h-12zM104 150h1v1h-1zM107 150h1v1h-1zM110 150h5v1h-5zM119 150h2v1h-2zM125 150h1v1h-1zM127 150h2v1h-2zM131 150h1v1h-1zM156 150h1v1h-1zM88 151h12v1h-12zM101 151h1v1h-1zM103 151h3v1h-3zM107 151h3v1h-3zM117 151h1v1h-1zM123 151h1v1h-1zM127 151h1v1h-1zM131 151h2v1h-2zM87 152h7v1h-7zM95 152h4v1h-4zM103 152h1v1h-1zM107 152h1v1h-1zM109 152h1v1h-1zM111 152h1v1h-1zM114 152h1v1h-1zM120 152h1v1h-1zM122 152h2v1h-2zM135 152h1v1h-1zM138 152h1v1h-1zM86 153h7v1h-7zM95 153h6v1h-6zM102 153h1v1h-1zM104 153h1v1h-1zM106 153h1v1h-1zM109 153h2v1h-2zM115 153h1v1h-1zM117 153h1v1h-1zM122 153h1v1h-1zM134 153h3v1h-3zM153 153h1v1h-1zM159 153h1v1h-1zM85 154h4v1h-4zM90 154h5v1h-5zM96 154h1v1h-1zM98 154h1v1h-1zM100 154h2v1h-2zM109 154h2v1h-2zM113 154h1v1h-1zM117 154h1v1h-1zM120 154h2v1h-2zM127 154h1v1h-1zM144 154h1v1h-1zM84 155h9v1h-9zM95 155h5v1h-5zM108 155h1v1h-1zM120 155h2v1h-2zM123 155h1v1h-1zM135 155h1v1h-1zM146 155h2v1h-2zM82 156h7v1h-7zM90 156h5v1h-5zM96 156h1v1h-1zM98 156h4v1h-4zM106 156h2v1h-2zM109 156h2v1h-2zM112 156h2v1h-2zM120 156h2v1h-2zM126 156h3v1h-3zM130 156h2v1h-2zM133 156h3v1h-3zM149 156h1v1h-1zM81 157h7v1h-7zM90 157h6v1h-6zM99 157h1v1h-1zM101 157h2v1h-2zM107 157h7v1h-7zM116 157h2v1h-2zM126 157h1v1h-1zM130 157h1v1h-1zM152 157h2v1h-2zM79 158h14v1h-14zM94 158h1v1h-1zM97 158h2v1h-2zM109 158h1v1h-1zM115 158h3v1h-3zM124 158h1v1h-1zM126 158h4v1h-4zM149 158h1v1h-1zM76 159h6v1h-6zM87 159h5v1h-5zM100 159h4v1h-4zM108 159h2v1h-2zM111 159h1v1h-1zM126 159h4v1h-4zM139 159h2v1h-2zM146 159h1v1h-1zM72 160h15v1h-15zM88 160h2v1h-2zM105 160h1v1h-1zM112 160h1v1h-1zM116 160h2v1h-2zM123 160h2v1h-2zM140 160h1v1h-1zM147 160h1v1h-1zM66 161h8v1h-8zM75 161h13v1h-13zM90 161h2v1h-2zM98 161h3v1h-3zM122 161h1v1h-1zM128 161h1v1h-1zM60 162h27v1h-27zM88 162h2v1h-2zM96 162h3v1h-3zM104 162h2v1h-2zM113 162h1v1h-1zM145 162h1v1h-1zM55 163h10v1h-10zM66 163h3v1h-3zM71 163h6v1h-6zM78 163h6v1h-6zM85 163h1v1h-1zM89 163h1v1h-1zM91 163h1v1h-1zM96 163h1v1h-1zM98 163h1v1h-1zM110 163h2v1h-2zM113 163h1v1h-1zM142 163h1v1h-1zM18 164h34v1h-34zM53 164h5v1h-5zM59 164h7v1h-7zM67 164h6v1h-6zM74 164h1v1h-1zM76 164h1v1h-1zM81 164h3v1h-3zM89 164h1v1h-1zM92 164h3v1h-3zM98 164h1v1h-1zM102 164h1v1h-1zM104 164h2v1h-2zM112 164h1v1h-1zM116 164h1v1h-1zM122 164h2v1h-2zM125 164h1v1h-1zM137 164h2v1h-2zM147 164h1v1h-1zM168 164h1v1h-1zM3 165h55v1h-55zM59 165h9v1h-9zM69 165h4v1h-4zM75 165h2v1h-2zM79 165h4v1h-4zM87 165h5v1h-5zM95 165h3v1h-3zM103 165h6v1h-6zM110 165h1v1h-1zM112 165h1v1h-1zM114 165h3v1h-3zM128 165h1v1h-1zM130 165h2v1h-2zM136 165h3v1h-3zM158 165h1v1h-1zM3 166h71v1h-71zM75 166h4v1h-4zM80 166h3v1h-3zM85 166h4v1h-4zM96 166h4v1h-4zM101 166h2v1h-2zM104 166h1v1h-1zM106 166h2v1h-2zM113 166h1v1h-1zM115 166h3v1h-3zM122 166h2v1h-2zM133 166h2v1h-2zM141 166h1v1h-1zM3 167h6v1h-6zM11 167h21v1h-21zM34 167h11v1h-11zM46 167h8v1h-8zM56 167h2v1h-2zM59 167h4v1h-4zM64 167h1v1h-1zM66 167h7v1h-7zM75 167h7v1h-7zM87 167h1v1h-1zM89 167h1v1h-1zM95 167h1v1h-1zM106 167h2v1h-2zM111 167h1v1h-1zM116 167h2v1h-2zM124 167h1v1h-1zM130 167h1v1h-1zM3 168h3v1h-3zM16 168h2v1h-2zM27 168h3v1h-3zM39 168h2v1h-2zM47 168h2v1h-2zM50 168h2v1h-2zM67 168h2v1h-2z" fill="#000"/>
</g>
<rect x="130.7" y="20.6" width="85.8" height="85.8" fill="none" stroke="#555" stroke-width="0.8"/>
<rect x="175.9" y="33.5" width="32.8" height="32.8" fill="none" stroke="#000" stroke-width="1.9"/>
<rect x="175.9" y="69.6" width="32.8" height="33.2" fill="none" stroke="#000" stroke-width="1.9"/>
<text x="177.1" y="43.5" font-size="10.2" text-anchor="start" fill="#111" letter-spacing=".5" stroke-width=".1">1.6</text>
<text x="191.7" y="100.2" font-size="10.2" text-anchor="start" fill="#111" letter-spacing=".5" stroke-width=".1">8.4</text>
<text x="168.3" y="16" font-size="10" text-anchor="middle" fill="#000">PBS-Lipo</text>
<g transform="translate(225 20) scale(0.5)">
<path d="M47 117 47 118 32 118 32 119 21 119 21 120 5 120 5 121 1 121 1 122 1 122 1 123 1 123 1 124 1 124 1 125 1 125 1 126 1 126 1 127 1 127 1 128 1 128 1 129 1 129 1 130 1 130 1 131 1 131 1 132 1 132 1 133 1 133 1 134 1 134 1 135 1 135 1 136 1 136 1 137 1 137 1 138 1 138 1 139 1 139 1 140 1 140 1 141 1 141 1 142 1 142 1 143 1 143 1 144 1 144 1 145 1 145 1 146 1 146 1 147 1 147 1 148 1 148 1 149 1 149 1 150 1 150 1 151 1 151 1 152 1 152 1 153 1 153 1 154 1 154 1 155 1 155 1 156 1 156 1 157 1 157 1 158 1 158 1 159 1 159 1 160 1 160 1 161 1 161 1 162 26 162 26 161 30 161 30 160 46 160 46 159 50 159 50 158 54 158 54 157 58 157 58 156 62 156 62 155 64 155 64 154 67 154 67 153 70 153 70 152 71 152 71 151 72 151 72 150 72 150 72 149 74 149 74 148 75 148 75 147 76 147 76 146 76 146 76 145 77 145 77 144 78 144 78 143 78 143 78 142 79 142 79 141 79 141 79 140 80 140 80 139 80 139 80 138 80 138 80 137 81 137 81 136 81 136 81 135 81 135 81 134 82 134 82 133 82 133 82 132 82 132 82 131 82 131 82 130 82 130 82 129 83 129 83 128 83 128 83 127 83 127 83 126 82 126 82 125 82 125 82 124 80 124 80 123 80 123 80 122 78 122 78 121 78 121 78 120 69 120 69 119 65 119 65 118 57 118 57 117zM104 61h2v1h-2zM63 63h2v1h-2zM111 63h1v1h-1zM147 64h2v1h-2zM107 65h1v1h-1zM132 67h2v1h-2zM141 70h1v1h-1zM123 71h2v1h-2zM97 73h1v1h-1zM112 73h2v1h-2zM117 73h1v1h-1zM133 73h2v1h-2zM89 74h2v1h-2zM101 74h1v1h-1zM130 74h1v1h-1zM157 74h2v1h-2zM39 78h1v1h-1zM70 78h1v1h-1zM43 79h1v1h-1zM50 79h1v1h-1zM75 79h1v1h-1zM87 79h1v1h-1zM108 79h2v1h-2zM134 79h2v1h-2zM64 80h1v1h-1zM73 80h2v1h-2zM84 80h1v1h-1zM122 80h1v1h-1zM132 80h1v1h-1zM139 80h2v1h-2zM142 80h1v1h-1zM148 80h2v1h-2zM52 81h1v1h-1zM73 81h2v1h-2zM83 81h1v1h-1zM88 81h1v1h-1zM92 81h1v1h-1zM119 81h1v1h-1zM122 81h2v1h-2zM163 81h1v1h-1zM52 82h1v1h-1zM58 82h1v1h-1zM71 82h2v1h-2zM86 82h2v1h-2zM89 82h1v1h-1zM104 82h1v1h-1zM121 82h2v1h-2zM138 82h1v1h-1zM85 83h2v1h-2zM99 83h1v1h-1zM102 83h1v1h-1zM108 83h1v1h-1zM115 83h1v1h-1zM121 83h3v1h-3zM161 83h1v1h-1zM51 84h1v1h-1zM65 84h1v1h-1zM71 84h1v1h-1zM94 84h1v1h-1zM110 84h1v1h-1zM122 84h2v1h-2zM126 84h1v1h-1zM142 84h1v1h-1zM150 84h2v1h-2zM22 85h1v1h-1zM58 85h2v1h-2zM64 85h1v1h-1zM75 85h2v1h-2zM90 85h1v1h-1zM105 85h1v1h-1zM58 86h1v1h-1zM61 86h1v1h-1zM68 86h1v1h-1zM81 86h1v1h-1zM88 86h1v1h-1zM90 86h1v1h-1zM99 86h1v1h-1zM106 86h1v1h-1zM120 86h1v1h-1zM27 87h2v1h-2zM30 87h2v1h-2zM46 87h1v1h-1zM57 87h2v1h-2zM77 87h1v1h-1zM87 87h1v1h-1zM93 87h2v1h-2zM96 87h1v1h-1zM123 87h2v1h-2zM30 88h2v1h-2zM65 88h1v1h-1zM71 88h2v1h-2zM89 88h2v1h-2zM94 88h1v1h-1zM123 88h1v1h-1zM9 89h1v1h-1zM33 89h1v1h-1zM36 89h1v1h-1zM39 89h1v1h-1zM71 89h2v1h-2zM86 89h1v1h-1zM89 89h2v1h-2zM95 89h3v1h-3zM123 89h4v1h-4zM7 90h1v1h-1zM21 90h2v1h-2zM47 90h1v1h-1zM57 90h1v1h-1zM123 90h2v1h-2zM134 90h1v1h-1zM147 90h1v1h-1zM14 91h1v1h-1zM21 91h2v1h-2zM25 91h2v1h-2zM43 91h2v1h-2zM58 91h3v1h-3zM63 91h2v1h-2zM94 91h2v1h-2zM101 91h1v1h-1zM113 91h1v1h-1zM124 91h1v1h-1zM141 91h2v1h-2zM155 91h1v1h-1zM25 92h2v1h-2zM35 92h2v1h-2zM57 92h2v1h-2zM63 92h2v1h-2zM79 92h4v1h-4zM85 92h2v1h-2zM90 92h2v1h-2zM93 92h3v1h-3zM100 92h2v1h-2zM113 92h2v1h-2zM133 92h1v1h-1zM161 92h1v1h-1zM32 93h1v1h-1zM63 93h3v1h-3zM92 93h2v1h-2zM97 93h1v1h-1zM99 93h2v1h-2zM111 93h1v1h-1zM124 93h3v1h-3zM153 93h2v1h-2zM29 94h2v1h-2zM61 94h2v1h-2zM64 94h2v1h-2zM87 94h4v1h-4zM92 94h2v1h-2zM99 94h2v1h-2zM107 94h1v1h-1zM124 94h2v1h-2zM24 95h2v1h-2zM35 95h1v1h-1zM46 95h1v1h-1zM48 95h2v1h-2zM59 95h2v1h-2zM62 95h1v1h-1zM70 95h1v1h-1zM76 95h1v1h-1zM79 95h1v1h-1zM84 95h1v1h-1zM87 95h1v1h-1zM91 95h2v1h-2zM100 95h1v1h-1zM104 95h2v1h-2zM130 95h2v1h-2zM133 95h2v1h-2zM146 95h1v1h-1zM152 95h2v1h-2zM167 95h1v1h-1zM14 96h1v1h-1zM17 96h2v1h-2zM23 96h2v1h-2zM28 96h1v1h-1zM59 96h2v1h-2zM69 96h2v1h-2zM84 96h1v1h-1zM89 96h1v1h-1zM91 96h2v1h-2zM96 96h1v1h-1zM102 96h2v1h-2zM116 96h1v1h-1zM130 96h2v1h-2zM12 97h1v1h-1zM30 97h1v1h-1zM38 97h1v1h-1zM40 97h1v1h-1zM50 97h1v1h-1zM54 97h1v1h-1zM61 97h3v1h-3zM66 97h2v1h-2zM69 97h1v1h-1zM78 97h3v1h-3zM88 97h1v1h-1zM91 97h1v1h-1zM102 97h4v1h-4zM114 97h3v1h-3zM119 97h1v1h-1zM149 97h1v1h-1zM155 97h1v1h-1zM165 97h1v1h-1zM4 98h2v1h-2zM25 98h4v1h-4zM30 98h2v1h-2zM37 98h2v1h-2zM49 98h2v1h-2zM86 98h3v1h-3zM101 98h7v1h-7zM110 98h3v1h-3zM114 98h3v1h-3zM118 98h1v1h-1zM128 98h1v1h-1zM140 98h1v1h-1zM21 99h2v1h-2zM25 99h2v1h-2zM30 99h2v1h-2zM37 99h2v1h-2zM43 99h2v1h-2zM50 99h3v1h-3zM55 99h1v1h-1zM61 99h3v1h-3zM65 99h1v1h-1zM67 99h2v1h-2zM72 99h2v1h-2zM80 99h1v1h-1zM84 99h4v1h-4zM95 99h2v1h-2zM99 99h4v1h-4zM117 99h1v1h-1zM124 99h1v1h-1zM126 99h2v1h-2zM162 99h1v1h-1zM14 100h1v1h-1zM22 100h2v1h-2zM31 100h3v1h-3zM42 100h3v1h-3zM48 100h1v1h-1zM56 100h1v1h-1zM61 100h1v1h-1zM68 100h2v1h-2zM72 100h1v1h-1zM84 100h5v1h-5zM92 100h2v1h-2zM96 100h1v1h-1zM98 100h3v1h-3zM103 100h1v1h-1zM105 100h4v1h-4zM115 100h2v1h-2zM124 100h1v1h-1zM134 100h2v1h-2zM137 100h1v1h-1zM142 100h1v1h-1zM154 100h2v1h-2zM168 100h2v1h-2zM12 101h1v1h-1zM17 101h1v1h-1zM22 101h4v1h-4zM28 101h1v1h-1zM31 101h3v1h-3zM40 101h1v1h-1zM43 101h1v1h-1zM45 101h2v1h-2zM50 101h1v1h-1zM53 101h3v1h-3zM60 101h2v1h-2zM63 101h1v1h-1zM65 101h1v1h-1zM70 101h2v1h-2zM85 101h4v1h-4zM91 101h2v1h-2zM94 101h2v1h-2zM105 101h2v1h-2zM108 101h2v1h-2zM112 101h2v1h-2zM130 101h2v1h-2zM133 101h2v1h-2zM141 101h2v1h-2zM5 102h1v1h-1zM10 102h1v1h-1zM22 102h4v1h-4zM27 102h1v1h-1zM32 102h2v1h-2zM40 102h1v1h-1zM42 102h1v1h-1zM45 102h3v1h-3zM51 102h5v1h-5zM70 102h1v1h-1zM72 102h2v1h-2zM81 102h1v1h-1zM83 102h5v1h-5zM91 102h4v1h-4zM96 102h5v1h-5zM102 102h2v1h-2zM105 102h5v1h-5zM111 102h5v1h-5zM118 102h5v1h-5zM132 102h1v1h-1zM134 102h1v1h-1zM136 102h1v1h-1zM142 102h2v1h-2zM8 103h1v1h-1zM16 103h1v1h-1zM19 103h2v1h-2zM23 103h2v1h-2zM34 103h1v1h-1zM38 103h1v1h-1zM42 103h1v1h-1zM49 103h1v1h-1zM52 103h1v1h-1zM54 103h3v1h-3zM60 103h2v1h-2zM67 103h2v1h-2zM76 103h1v1h-1zM78 103h2v1h-2zM81 103h6v1h-6zM88 103h2v1h-2zM93 103h7v1h-7zM103 103h1v1h-1zM105 103h3v1h-3zM112 103h2v1h-2zM117 103h1v1h-1zM121 103h2v1h-2zM128 103h3v1h-3zM142 103h1v1h-1zM147 103h1v1h-1zM152 103h1v1h-1zM7 104h2v1h-2zM11 104h1v1h-1zM15 104h2v1h-2zM19 104h2v1h-2zM39 104h2v1h-2zM44 104h5v1h-5zM55 104h3v1h-3zM59 104h1v1h-1zM65 104h1v1h-1zM67 104h1v1h-1zM70 104h4v1h-4zM75 104h3v1h-3zM83 104h2v1h-2zM86 104h8v1h-8zM95 104h4v1h-4zM102 104h5v1h-5zM108 104h2v1h-2zM111 104h2v1h-2zM121 104h3v1h-3zM135 104h1v1h-1zM137 104h1v1h-1zM141 104h1v1h-1zM6 105h3v1h-3zM15 105h2v1h-2zM25 105h2v1h-2zM30 105h2v1h-2zM33 105h1v1h-1zM38 105h3v1h-3zM42 105h6v1h-6zM51 105h1v1h-1zM54 105h2v1h-2zM58 105h7v1h-7zM70 105h2v1h-2zM75 105h3v1h-3zM84 105h1v1h-1zM86 105h1v1h-1zM88 105h5v1h-5zM94 105h3v1h-3zM100 105h10v1h-10zM112 105h3v1h-3zM119 105h4v1h-4zM143 105h1v1h-1zM6 106h2v1h-2zM18 106h2v1h-2zM29 106h3v1h-3zM36 106h1v1h-1zM39 106h2v1h-2zM43 106h2v1h-2zM48 106h2v1h-2zM52 106h1v1h-1zM54 106h2v1h-2zM58 106h3v1h-3zM63 106h4v1h-4zM70 106h1v1h-1zM75 106h5v1h-5zM82 106h4v1h-4zM88 106h26v1h-26zM117 106h1v1h-1zM119 106h4v1h-4zM127 106h1v1h-1zM131 106h2v1h-2zM137 106h1v1h-1zM153 106h1v1h-1zM156 106h2v1h-2zM4 107h3v1h-3zM8 107h2v1h-2zM12 107h2v1h-2zM15 107h2v1h-2zM18 107h2v1h-2zM26 107h3v1h-3zM30 107h3v1h-3zM37 107h1v1h-1zM39 107h4v1h-4zM45 107h1v1h-1zM47 107h4v1h-4zM52 107h2v1h-2zM55 107h3v1h-3zM59 107h2v1h-2zM62 107h2v1h-2zM68 107h4v1h-4zM74 107h3v1h-3zM79 107h9v1h-9zM89 107h11v1h-11zM101 107h4v1h-4zM106 107h12v1h-12zM119 107h2v1h-2zM129 107h1v1h-1zM3 108h1v1h-1zM5 108h2v1h-2zM22 108h4v1h-4zM27 108h4v1h-4zM37 108h3v1h-3zM42 108h10v1h-10zM57 108h3v1h-3zM62 108h2v1h-2zM66 108h1v1h-1zM68 108h4v1h-4zM75 108h6v1h-6zM82 108h18v1h-18zM101 108h10v1h-10zM112 108h3v1h-3zM118 108h3v1h-3zM125 108h1v1h-1zM138 108h1v1h-1zM142 108h2v1h-2zM164 108h2v1h-2zM2 109h1v1h-1zM24 109h2v1h-2zM30 109h1v1h-1zM38 109h2v1h-2zM41 109h12v1h-12zM56 109h2v1h-2zM62 109h3v1h-3zM66 109h1v1h-1zM70 109h2v1h-2zM74 109h3v1h-3zM78 109h2v1h-2zM82 109h2v1h-2zM85 109h1v1h-1zM87 109h1v1h-1zM89 109h27v1h-27zM117 109h4v1h-4zM122 109h5v1h-5zM128 109h2v1h-2zM131 109h1v1h-1zM133 109h3v1h-3zM137 109h1v1h-1zM145 109h1v1h-1zM147 109h1v1h-1zM151 109h1v1h-1zM162 109h1v1h-1zM7 110h1v1h-1zM10 110h2v1h-2zM13 110h2v1h-2zM18 110h1v1h-1zM21 110h3v1h-3zM33 110h2v1h-2zM38 110h6v1h-6zM45 110h1v1h-1zM47 110h1v1h-1zM49 110h1v1h-1zM51 110h2v1h-2zM56 110h2v1h-2zM59 110h5v1h-5zM67 110h1v1h-1zM69 110h2v1h-2zM74 110h3v1h-3zM78 110h1v1h-1zM84 110h1v1h-1zM86 110h3v1h-3zM91 110h5v1h-5zM97 110h15v1h-15zM113 110h7v1h-7zM121 110h3v1h-3zM125 110h3v1h-3zM132 110h4v1h-4zM153 110h1v1h-1zM157 110h1v1h-1zM4 111h1v1h-1zM7 111h3v1h-3zM13 111h1v1h-1zM15 111h5v1h-5zM21 111h2v1h-2zM25 111h2v1h-2zM32 111h2v1h-2zM35 111h2v1h-2zM40 111h6v1h-6zM47 111h3v1h-3zM53 111h1v1h-1zM55 111h5v1h-5zM65 111h2v1h-2zM68 111h7v1h-7zM76 111h3v1h-3zM81 111h3v1h-3zM86 111h4v1h-4zM91 111h1v1h-1zM93 111h7v1h-7zM101 111h10v1h-10zM112 111h7v1h-7zM123 111h1v1h-1zM131 111h2v1h-2zM135 111h1v1h-1zM139 111h2v1h-2zM3 112h3v1h-3zM10 112h2v1h-2zM14 112h5v1h-5zM21 112h1v1h-1zM23 112h5v1h-5zM29 112h9v1h-9zM40 112h4v1h-4zM45 112h1v1h-1zM48 112h2v1h-2zM53 112h11v1h-11zM66 112h3v1h-3zM70 112h4v1h-4zM76 112h2v1h-2zM80 112h30v1h-30zM111 112h9v1h-9zM122 112h4v1h-4zM152 112h1v1h-1zM10 113h3v1h-3zM14 113h5v1h-5zM21 113h1v1h-1zM24 113h1v1h-1zM26 113h6v1h-6zM33 113h2v1h-2zM36 113h5v1h-5zM42 113h3v1h-3zM46 113h3v1h-3zM50 113h14v1h-14zM66 113h3v1h-3zM71 113h6v1h-6zM78 113h5v1h-5zM84 113h23v1h-23zM108 113h8v1h-8zM117 113h1v1h-1zM119 113h3v1h-3zM128 113h3v1h-3zM132 113h2v1h-2zM139 113h1v1h-1zM141 113h1v1h-1zM151 113h2v1h-2zM159 113h1v1h-1zM2 114h1v1h-1zM7 114h1v1h-1zM9 114h5v1h-5zM21 114h8v1h-8zM32 114h2v1h-2zM35 114h2v1h-2zM38 114h2v1h-2zM41 114h12v1h-12zM54 114h2v1h-2zM57 114h15v1h-15zM76 114h4v1h-4zM81 114h7v1h-7zM89 114h2v1h-2zM92 114h6v1h-6zM99 114h13v1h-13zM114 114h9v1h-9zM127 114h1v1h-1zM129 114h1v1h-1zM131 114h2v1h-2zM135 114h2v1h-2zM138 114h2v1h-2zM3 115h2v1h-2zM10 115h6v1h-6zM18 115h3v1h-3zM22 115h8v1h-8zM31 115h3v1h-3zM35 115h10v1h-10zM46 115h16v1h-16zM63 115h2v1h-2zM66 115h15v1h-15zM83 115h24v1h-24zM108 115h14v1h-14zM129 115h2v1h-2zM135 115h1v1h-1zM2 116h4v1h-4zM7 116h18v1h-18zM26 116h5v1h-5zM32 116h6v1h-6zM40 116h9v1h-9zM50 116h30v1h-30zM82 116h15v1h-15zM98 116h6v1h-6zM105 116h15v1h-15zM121 116h2v1h-2zM126 116h1v1h-1zM133 116h1v1h-1zM135 116h2v1h-2zM138 116h1v1h-1zM141 116h1v1h-1zM2 117h5v1h-5zM8 117h4v1h-4zM14 117h8v1h-8zM23 117h24v1h-24zM57 117h58v1h-58zM116 117h3v1h-3zM120 117h3v1h-3zM125 117h1v1h-1zM135 117h2v1h-2zM153 117h1v1h-1zM158 117h2v1h-2zM2 118h21v1h-21zM24 118h8v1h-8zM65 118h14v1h-14zM80 118h14v1h-14zM95 118h16v1h-16zM112 118h12v1h-12zM126 118h1v1h-1zM130 118h2v1h-2zM134 118h5v1h-5zM143 118h2v1h-2zM158 118h2v1h-2zM161 118h1v1h-1zM2 119h19v1h-19zM69 119h42v1h-42zM112 119h2v1h-2zM115 119h5v1h-5zM122 119h2v1h-2zM125 119h1v1h-1zM129 119h5v1h-5zM135 119h4v1h-4zM142 119h2v1h-2zM152 119h1v1h-1zM155 119h2v1h-2zM162 119h1v1h-1zM165 119h1v1h-1zM2 120h3v1h-3zM78 120h41v1h-41zM120 120h2v1h-2zM124 120h1v1h-1zM126 120h2v1h-2zM131 120h3v1h-3zM141 120h2v1h-2zM144 120h1v1h-1zM150 120h2v1h-2zM155 120h2v1h-2zM78 121h28v1h-28zM107 121h7v1h-7zM115 121h4v1h-4zM121 121h2v1h-2zM125 121h2v1h-2zM128 121h3v1h-3zM133 121h1v1h-1zM136 121h2v1h-2zM141 121h2v1h-2zM147 121h1v1h-1zM150 121h3v1h-3zM161 121h2v1h-2zM80 122h23v1h-23zM104 122h3v1h-3zM109 122h1v1h-1zM111 122h5v1h-5zM119 122h1v1h-1zM121 122h2v1h-2zM124 122h1v1h-1zM130 122h2v1h-2zM143 122h2v1h-2zM151 122h2v1h-2zM80 123h23v1h-23zM104 123h15v1h-15zM120 123h8v1h-8zM135 123h1v1h-1zM137 123h1v1h-1zM153 123h2v1h-2zM158 123h1v1h-1zM161 123h2v1h-2zM82 124h33v1h-33zM116 124h4v1h-4zM121 124h4v1h-4zM131 124h1v1h-1zM140 124h1v1h-1zM149 124h2v1h-2zM159 124h1v1h-1zM82 125h14v1h-14zM97 125h16v1h-16zM115 125h1v1h-1zM121 125h5v1h-5zM127 125h1v1h-1zM130 125h1v1h-1zM135 125h2v1h-2zM149 125h2v1h-2zM152 125h2v1h-2zM83 126h28v1h-28zM114 126h6v1h-6zM121 126h2v1h-2zM127 126h3v1h-3zM135 126h2v1h-2zM152 126h2v1h-2zM166 126h2v1h-2zM83 127h31v1h-31zM115 127h3v1h-3zM119 127h1v1h-1zM124 127h5v1h-5zM130 127h3v1h-3zM134 127h1v1h-1zM155 127h3v1h-3zM83 128h23v1h-23zM108 128h1v1h-1zM110 128h3v1h-3zM116 128h2v1h-2zM119 128h2v1h-2zM125 128h2v1h-2zM131 128h2v1h-2zM140 128h1v1h-1zM143 128h1v1h-1zM145 128h2v1h-2zM82 129h16v1h-16zM99 129h9v1h-9zM109 129h5v1h-5zM115 129h7v1h-7zM124 129h1v1h-1zM130 129h1v1h-1zM132 129h1v1h-1zM134 129h3v1h-3zM141 129h1v1h-1zM144 129h1v1h-1zM147 129h2v1h-2zM154 129h1v1h-1zM158 129h2v1h-2zM82 130h9v1h-9zM92 130h2v1h-2zM96 130h5v1h-5zM104 130h10v1h-10zM115 130h1v1h-1zM118 130h2v1h-2zM121 130h2v1h-2zM125 130h2v1h-2zM135 130h2v1h-2zM147 130h2v1h-2zM82 131h14v1h-14zM97 131h18v1h-18zM119 131h1v1h-1zM121 131h2v1h-2zM124 131h1v1h-1zM130 131h4v1h-4zM136 131h2v1h-2zM139 131h2v1h-2zM143 131h1v1h-1zM147 131h2v1h-2zM82 132h18v1h-18zM102 132h8v1h-8zM111 132h2v1h-2zM114 132h2v1h-2zM119 132h1v1h-1zM124 132h1v1h-1zM128 132h1v1h-1zM132 132h3v1h-3zM137 132h5v1h-5zM155 132h1v1h-1zM82 133h22v1h-22zM105 133h6v1h-6zM114 133h2v1h-2zM118 133h1v1h-1zM120 133h2v1h-2zM123 133h2v1h-2zM132 133h3v1h-3zM140 133h1v1h-1zM145 133h1v1h-1zM149 133h1v1h-1zM156 133h1v1h-1zM81 134h7v1h-7zM89 134h12v1h-12zM102 134h1v1h-1zM104 134h2v1h-2zM107 134h2v1h-2zM110 134h1v1h-1zM113 134h4v1h-4zM122 134h2v1h-2zM147 134h1v1h-1zM81 135h7v1h-7zM90 135h11v1h-11zM105 135h6v1h-6zM116 135h1v1h-1zM118 135h2v1h-2zM124 135h1v1h-1zM126 135h2v1h-2zM129 135h1v1h-1zM132 135h2v1h-2zM137 135h4v1h-4zM144 135h2v1h-2zM154 135h1v1h-1zM81 136h12v1h-12zM94 136h2v1h-2zM97 136h4v1h-4zM104 136h2v1h-2zM109 136h4v1h-4zM114 136h1v1h-1zM119 136h2v1h-2zM123 136h1v1h-1zM126 136h4v1h-4zM132 136h2v1h-2zM155 136h1v1h-1zM167 136h2v1h-2zM80 137h13v1h-13zM97 137h3v1h-3zM102 137h12v1h-12zM116 137h1v1h-1zM118 137h3v1h-3zM125 137h2v1h-2zM128 137h3v1h-3zM133 137h5v1h-5zM141 137h1v1h-1zM151 137h2v1h-2zM155 137h1v1h-1zM80 138h8v1h-8zM89 138h3v1h-3zM94 138h13v1h-13zM108 138h2v1h-2zM118 138h2v1h-2zM127 138h3v1h-3zM131 138h1v1h-1zM133 138h1v1h-1zM135 138h3v1h-3zM139 138h2v1h-2zM148 138h1v1h-1zM153 138h2v1h-2zM80 139h12v1h-12zM94 139h12v1h-12zM109 139h4v1h-4zM120 139h4v1h-4zM127 139h2v1h-2zM132 139h5v1h-5zM138 139h3v1h-3zM151 139h2v1h-2zM79 140h8v1h-8zM89 140h1v1h-1zM91 140h5v1h-5zM100 140h2v1h-2zM103 140h3v1h-3zM109 140h2v1h-2zM113 140h3v1h-3zM119 140h4v1h-4zM124 140h2v1h-2zM127 140h3v1h-3zM131 140h1v1h-1zM133 140h2v1h-2zM144 140h1v1h-1zM163 140h1v1h-1zM79 141h10v1h-10zM91 141h4v1h-4zM99 141h2v1h-2zM103 141h1v1h-1zM105 141h2v1h-2zM109 141h1v1h-1zM121 141h2v1h-2zM124 141h3v1h-3zM135 141h2v1h-2zM150 141h1v1h-1zM78 142h7v1h-7zM86 142h4v1h-4zM103 142h2v1h-2zM106 142h2v1h-2zM109 142h2v1h-2zM113 142h1v1h-1zM117 142h1v1h-1zM125 142h2v1h-2zM135 142h2v1h-2zM142 142h2v1h-2zM147 142h1v1h-1zM78 143h7v1h-7zM86 143h1v1h-1zM94 143h1v1h-1zM96 143h5v1h-5zM103 143h1v1h-1zM106 143h5v1h-5zM112 143h1v1h-1zM114 143h3v1h-3zM122 143h2v1h-2zM125 143h2v1h-2zM137 143h1v1h-1zM141 143h1v1h-1zM77 144h8v1h-8zM89 144h1v1h-1zM91 144h1v1h-1zM103 144h3v1h-3zM114 144h1v1h-1zM121 144h1v1h-1zM149 144h2v1h-2zM76 145h9v1h-9zM86 145h1v1h-1zM89 145h2v1h-2zM94 145h1v1h-1zM98 145h1v1h-1zM100 145h2v1h-2zM110 145h4v1h-4zM122 145h2v1h-2zM128 145h1v1h-1zM132 145h2v1h-2zM145 145h1v1h-1zM147 145h3v1h-3zM76 146h9v1h-9zM91 146h4v1h-4zM98 146h4v1h-4zM109 146h2v1h-2zM112 146h2v1h-2zM120 146h2v1h-2zM123 146h1v1h-1zM129 146h1v1h-1zM75 147h5v1h-5zM81 147h7v1h-7zM93 147h2v1h-2zM98 147h1v1h-1zM106 147h1v1h-1zM120 147h2v1h-2zM123 147h2v1h-2zM128 147h1v1h-1zM131 147h2v1h-2zM152 147h1v1h-1zM164 147h2v1h-2zM74 148h9v1h-9zM93 148h1v1h-1zM95 148h4v1h-4zM110 148h2v1h-2zM120 148h5v1h-5zM137 148h1v1h-1zM72 149h11v1h-11zM84 149h1v1h-1zM94 149h1v1h-1zM97 149h2v1h-2zM103 149h2v1h-2zM106 149h1v1h-1zM111 149h2v1h-2zM126 149h4v1h-4zM131 149h2v1h-2zM72 150h2v1h-2zM75 150h1v1h-1zM77 150h5v1h-5zM86 150h1v1h-1zM100 150h3v1h-3zM106 150h1v1h-1zM117 150h2v1h-2zM126 150h2v1h-2zM137 150h1v1h-1zM143 150h2v1h-2zM71 151h6v1h-6zM78 151h2v1h-2zM83 151h1v1h-1zM93 151h3v1h-3zM98 151h1v1h-1zM109 151h1v1h-1zM124 151h1v1h-1zM126 151h1v1h-1zM128 151h1v1h-1zM137 151h2v1h-2zM147 151h1v1h-1zM70 152h8v1h-8zM80 152h2v1h-2zM84 152h3v1h-3zM90 152h1v1h-1zM94 152h2v1h-2zM97 152h2v1h-2zM100 152h1v1h-1zM103 152h2v1h-2zM113 152h2v1h-2zM118 152h1v1h-1zM122 152h1v1h-1zM125 152h2v1h-2zM137 152h2v1h-2zM67 153h13v1h-13zM82 153h2v1h-2zM85 153h2v1h-2zM93 153h1v1h-1zM103 153h2v1h-2zM121 153h2v1h-2zM139 153h2v1h-2zM64 154h17v1h-17zM82 154h2v1h-2zM85 154h1v1h-1zM108 154h2v1h-2zM113 154h1v1h-1zM120 154h1v1h-1zM130 154h2v1h-2zM62 155h9v1h-9zM72 155h3v1h-3zM77 155h3v1h-3zM83 155h1v1h-1zM92 155h1v1h-1zM94 155h1v1h-1zM99 155h2v1h-2zM106 155h1v1h-1zM109 155h1v1h-1zM126 155h2v1h-2zM130 155h2v1h-2zM58 156h14v1h-14zM82 156h1v1h-1zM124 156h1v1h-1zM138 156h2v1h-2zM54 157h9v1h-9zM64 157h2v1h-2zM69 157h2v1h-2zM72 157h1v1h-1zM75 157h2v1h-2zM81 157h1v1h-1zM84 157h2v1h-2zM93 157h1v1h-1zM102 157h1v1h-1zM125 157h1v1h-1zM50 158h7v1h-7zM58 158h13v1h-13zM74 158h2v1h-2zM77 158h1v1h-1zM82 158h1v1h-1zM85 158h2v1h-2zM89 158h1v1h-1zM148 158h1v1h-1zM166 158h1v1h-1zM46 159h7v1h-7zM54 159h6v1h-6zM62 159h2v1h-2zM66 159h2v1h-2zM70 159h2v1h-2zM74 159h1v1h-1zM85 159h2v1h-2zM120 159h2v1h-2zM30 160h22v1h-22zM53 160h1v1h-1zM55 160h10v1h-10zM67 160h4v1h-4zM94 160h2v1h-2zM99 160h2v1h-2zM122 160h1v1h-1zM26 161h19v1h-19zM46 161h6v1h-6zM54 161h10v1h-10zM68 161h3v1h-3zM74 161h2v1h-2zM117 161h1v1h-1zM123 161h1v1h-1zM2 162h48v1h-48zM51 162h2v1h-2zM54 162h3v1h-3zM58 162h1v1h-1zM60 162h3v1h-3zM64 162h2v1h-2zM83 162h2v1h-2zM93 162h2v1h-2zM2 163h16v1h-16zM19 163h10v1h-10zM30 163h13v1h-13zM44 163h6v1h-6zM51 163h1v1h-1zM53 163h5v1h-5zM60 163h2v1h-2zM65 163h2v1h-2zM73 163h2v1h-2zM85 163h2v1h-2zM88 163h1v1h-1zM93 163h2v1h-2zM142 163h2v1h-2zM2 164h4v1h-4zM7 164h20v1h-20zM28 164h4v1h-4zM35 164h2v1h-2zM38 164h1v1h-1zM40 164h4v1h-4zM45 164h1v1h-1zM47 164h2v1h-2zM58 164h4v1h-4zM65 164h1v1h-1zM68 164h1v1h-1zM72 164h1v1h-1zM88 164h1v1h-1zM97 164h2v1h-2zM102 164h2v1h-2zM140 164h1v1h-1zM143 164h2v1h-2zM162 164h1v1h-1zM2 165h3v1h-3zM7 165h2v1h-2zM11 165h21v1h-21zM33 165h6v1h-6zM41 165h2v1h-2zM57 165h1v1h-1zM68 165h1v1h-1zM96 165h2v1h-2zM99 165h1v1h-1zM102 165h2v1h-2zM105 165h1v1h-1zM110 165h1v1h-1zM2 166h1v1h-1zM4 166h2v1h-2zM7 166h1v1h-1zM11 166h3v1h-3zM15 166h2v1h-2zM19 166h2v1h-2zM22 166h2v1h-2zM35 166h2v1h-2zM46 166h2v1h-2zM57 166h1v1h-1zM113 166h2v1h-2zM4 167h2v1h-2zM19 167h2v1h-2z" fill="#000"/>
</g>
<rect x="225.3" y="20.4" width="85.8" height="85.4" fill="none" stroke="#555" stroke-width="0.8"/>
<rect x="269.9" y="33.3" width="32.6" height="32.6" fill="none" stroke="#000" stroke-width="1.9"/>
<rect x="269.9" y="69.4" width="33" height="32.6" fill="none" stroke="#000" stroke-width="1.9"/>
<text x="271.9" y="43.3" font-size="10.2" text-anchor="start" fill="#111" letter-spacing=".5" stroke-width=".1">0.2</text>
<text x="285.5" y="100" font-size="10.2" text-anchor="start" fill="#111" letter-spacing=".5" stroke-width=".1">9.1</text>
<text x="268.3" y="16" font-size="10" text-anchor="middle" fill="#000">CL-Lipo</text>
<text x="29.4" y="63.6" font-size="11.1" text-anchor="middle" fill="#000" transform="rotate(-90 29.4 63.6)">CD169</text>
<line x1="36" y1="115.5" x2="151.4" y2="115.5" stroke="#222" stroke-width="1.1"/>
<line x1="194.5" y1="115.5" x2="311" y2="115.5" stroke="#222" stroke-width="1.1"/>
<text x="173.3" y="119.5" font-size="10.7" text-anchor="middle" fill="#000">CD11b</text>
<text x="385.2" y="11" font-size="13.5" text-anchor="start" fill="#000" font-weight="bold">B</text>
<line x1="430" y1="19.8" x2="430" y2="120" stroke="#000" stroke-width="1.3"/>
<line x1="429.35" y1="119.4" x2="516" y2="119.4" stroke="#000" stroke-width="1.3"/>
<line x1="428" y1="119.4" x2="430" y2="119.4" stroke="#000" stroke-width="1"/>
<text x="426.8" y="122.2" font-size="7.6" text-anchor="end" fill="#000">0</text>
<line x1="428" y1="99.58" x2="430" y2="99.58" stroke="#000" stroke-width="1"/>
<text x="426.8" y="102.38" font-size="7.6" text-anchor="end" fill="#000">5</text>
<line x1="428" y1="79.76" x2="430" y2="79.76" stroke="#000" stroke-width="1"/>
<text x="426.8" y="82.56" font-size="7.6" text-anchor="end" fill="#000">10</text>
<line x1="428" y1="59.94" x2="430" y2="59.94" stroke="#000" stroke-width="1"/>
<text x="426.8" y="62.74" font-size="7.6" text-anchor="end" fill="#000">15</text>
<line x1="428" y1="40.12" x2="430" y2="40.12" stroke="#000" stroke-width="1"/>
<text x="426.8" y="42.92" font-size="7.6" text-anchor="end" fill="#000">20</text>
<line x1="428" y1="20.3" x2="430" y2="20.3" stroke="#000" stroke-width="1"/>
<text x="426.8" y="23.1" font-size="7.6" text-anchor="end" fill="#000">25</text>
<line x1="444.6" y1="119.4" x2="444.6" y2="121.2" stroke="#000" stroke-width="1"/>
<rect x="434.8" y="33.5" width="19.6" height="85.9" fill="#fff" stroke="#000" stroke-width="1.2"/>
<line x1="444.6" y1="26.7" x2="444.6" y2="40.6" stroke="#000" stroke-width="1.1"/>
<line x1="439.7" y1="26.7" x2="449.5" y2="26.7" stroke="#000" stroke-width="1.1"/>
<line x1="439.7" y1="40.6" x2="449.5" y2="40.6" stroke="#000" stroke-width="1.1"/>
<line x1="473.6" y1="119.4" x2="473.6" y2="121.2" stroke="#000" stroke-width="1"/>
<rect x="464" y="50.8" width="19.2" height="68.6" fill="#fff" stroke="#000" stroke-width="1.2"/>
<line x1="473.6" y1="38.5" x2="473.6" y2="62.4" stroke="#000" stroke-width="1.1"/>
<line x1="468.7" y1="38.5" x2="478.5" y2="38.5" stroke="#000" stroke-width="1.1"/>
<line x1="468.7" y1="62.4" x2="478.5" y2="62.4" stroke="#000" stroke-width="1.1"/>
<line x1="502.7" y1="119.4" x2="502.7" y2="121.2" stroke="#000" stroke-width="1"/>
<rect x="492.9" y="107.6" width="19.6" height="11.8" fill="#fff" stroke="#000" stroke-width="1.2"/>
<line x1="502.7" y1="105.1" x2="502.7" y2="110.5" stroke="#000" stroke-width="1.1"/>
<line x1="497.8" y1="105.1" x2="507.6" y2="105.1" stroke="#000" stroke-width="1.1"/>
<line x1="497.8" y1="110.5" x2="507.6" y2="110.5" stroke="#000" stroke-width="1.1"/>
<path d="M472.6 32.4V28.6H499.6V32.4" fill="none" stroke="#000" stroke-width="1"/>
<text x="486.1" y="29.8" font-size="7" text-anchor="middle" fill="#000">**</text>
<text x="409.6" y="68.7" font-size="8.9" text-anchor="middle" fill="#000" transform="rotate(-90 409.6 68.7)">% CD169+ among CD11b+</text>
<text x="443.9" y="137.7" font-size="8" text-anchor="middle" fill="#000">PBS</text>
<text x="472.8" y="131" font-size="8" text-anchor="middle" fill="#000">PBS</text>
<text x="472.8" y="140.8" font-size="8" text-anchor="middle" fill="#000">Lipo</text>
<text x="501.9" y="131" font-size="8" text-anchor="middle" fill="#000">CL</text>
<text x="502.4" y="140.8" font-size="8" text-anchor="middle" fill="#000">Lipo</text>
<text x="1.8" y="157.6" font-size="13.5" text-anchor="start" fill="#000" font-weight="bold">C</text>
<rect x="77.9" y="160.9" width="8.6" height="8.6" fill="#fff" stroke="#777" stroke-width="0.9"/>
<text x="89.6" y="168" font-size="8.8" text-anchor="start" fill="#000">PBS</text>
<rect x="117.9" y="160.9" width="8.6" height="8.6" fill="#000" stroke="#000" stroke-width="0.9"/>
<text x="129.8" y="168" font-size="8.8" text-anchor="start" fill="#000">MVA</text>
<line x1="62" y1="168.4" x2="62" y2="284.9" stroke="#000" stroke-width="1.25"/>
<line x1="61.4" y1="284.4" x2="164.8" y2="284.4" stroke="#000" stroke-width="1.25"/>
<line x1="59.6" y1="284.4" x2="62" y2="284.4" stroke="#000" stroke-width="1"/>
<line x1="59.6" y1="261.3" x2="62" y2="261.3" stroke="#000" stroke-width="1"/>
<line x1="59.6" y1="238.2" x2="62" y2="238.2" stroke="#000" stroke-width="1"/>
<line x1="59.6" y1="215.1" x2="62" y2="215.1" stroke="#000" stroke-width="1"/>
<line x1="59.6" y1="192" x2="62" y2="192" stroke="#000" stroke-width="1"/>
<line x1="59.6" y1="168.9" x2="62" y2="168.9" stroke="#000" stroke-width="1"/>
<text x="58.8" y="287.6" font-size="9" text-anchor="end" fill="#000">0</text>
<text x="58.8" y="241.4" font-size="9" text-anchor="end" fill="#000">1</text>
<text x="58.8" y="195.2" font-size="9" text-anchor="end" fill="#000">2</text>
<rect x="67.95" y="244.95" width="16.5" height="39.45" fill="#fff" stroke="#000" stroke-width="1.4"/>
<line x1="76.2" y1="230" x2="76.2" y2="260" stroke="#000" stroke-width="1"/>
<line x1="71.4" y1="230" x2="81" y2="230" stroke="#000" stroke-width="1"/>
<line x1="71.4" y1="260" x2="81" y2="260" stroke="#000" stroke-width="1"/>
<line x1="101.2" y1="195.4" x2="101.2" y2="211" stroke="#000" stroke-width="1"/>
<line x1="96.4" y1="195.4" x2="106" y2="195.4" stroke="#000" stroke-width="1"/>
<rect x="92.75" y="203.15" width="16.9" height="81.25" fill="#000" stroke="#000" stroke-width="1.4"/>
<rect x="117.95" y="249.05" width="16.7" height="35.35" fill="#fff" stroke="#000" stroke-width="1.4"/>
<line x1="126.3" y1="247.2" x2="126.3" y2="250.6" stroke="#000" stroke-width="1"/>
<line x1="121.5" y1="247.2" x2="131.1" y2="247.2" stroke="#000" stroke-width="1"/>
<line x1="121.5" y1="250.6" x2="131.1" y2="250.6" stroke="#000" stroke-width="1"/>
<line x1="151.7" y1="252.2" x2="151.7" y2="263" stroke="#000" stroke-width="1"/>
<line x1="146.9" y1="252.2" x2="156.5" y2="252.2" stroke="#000" stroke-width="1"/>
<rect x="143.15" y="257.85" width="17.1" height="26.55" fill="#000" stroke="#000" stroke-width="1.4"/>
<path d="M100.6 191.9V188.1H150.6V191.9" fill="none" stroke="#000" stroke-width="1"/>
<text x="125.6" y="190" font-size="7" text-anchor="middle" fill="#000">**</text>
<line x1="75" y1="293.8" x2="101.3" y2="293.8" stroke="#000" stroke-width="1.7"/>
<line x1="124.5" y1="293.8" x2="151.3" y2="293.8" stroke="#000" stroke-width="1.7"/>
<line x1="101.2" y1="284.4" x2="101.2" y2="286.4" stroke="#000" stroke-width="1"/>
<line x1="152" y1="284.4" x2="152" y2="286.4" stroke="#000" stroke-width="1"/>
<text x="82.5" y="308.1" font-size="10" text-anchor="middle" fill="#000">PBS-Lipo</text>
<text x="137.8" y="308.1" font-size="9.9" text-anchor="middle" fill="#000">CL-Lipo</text>
<text x="42" y="224.7" font-size="10.3" text-anchor="middle" fill="#000" transform="rotate(-90 42 224.7)">% NK cells</text>
<text x="236.2" y="157.3" font-size="13.5" text-anchor="start" fill="#000" font-weight="bold">D</text>
<text x="323.1" y="171.3" font-size="10.4" text-anchor="middle" fill="#000">PBS Lipo</text>
<text x="455.8" y="171.3" font-size="10.4" text-anchor="middle" fill="#000">CL-Lipo</text>
<polygon points="262.5,298.75 265,290 267.5,275 269.25,257.5 271,240 273,225 275,215 277,207.5 278.5,198.75 280,192.5 281.25,184.5 282.5,191.25 283.75,190 285,200 286,212.5 287.5,220 289,225 290.5,232.5 292,240 293.5,250 295.5,262.5 297.5,271.25 299.5,275 301.75,276.25 304.25,280 306.75,285 309.25,286.25 311.75,283.75 314.25,288.75 318,290.5 320.5,289.5 323.5,294.5 328,297.5 333,298.75" fill="#a8a8a8"/>
<polyline points="262.5,298.75 265,293.75 267.5,285 270,272.5 272,261.25 273.5,260 275,250 276.5,242.5 278,243 279.5,252.5 281,248.75 283,246.25 285,247.5 286.5,246.25 288,250 289.25,258.75 291,262.5 293,260 295.5,263.75 298,261.25 300,257.5 302,256.25 304,251.25 306,250 308,242.5 309.25,238.75 311,241.25 312.5,227.5 313.5,215 315.5,216.25 317.5,207.5 319.25,196.25 321,198.75 322,207.5 323.5,197.5 325,200 326.75,193.75 328.5,184.5 329.5,200 331,211.25 332.5,213.75 334,212.5 335,218.75 336.5,225 337.5,235 339,232.5 340.5,245 342.5,255 344.25,267.5 346,272.5 348,281.25 350.5,288.75 353,293.75 356,297.5 359.25,298.75 384.25,299" fill="none" stroke="#000" stroke-width="1.95" stroke-linejoin="round"/>
<rect x="261.8" y="177" width="123.2" height="122.8" fill="none" stroke="#555" stroke-width="0.9"/>
<clipPath id="cd2"><polygon points="396.25,298.75 397,290.5 398.75,280 400.5,267.5 402,252.5 403.5,236.25 404.5,225 406,226.25 407,212.5 408.5,200 410,188.75 412,185 413.25,193.75 414.5,203.75 415.5,200 416.75,191.25 418,198.75 419.25,207.5 420.5,221.25 422,226.25 423,225 424,237.5 425.5,250 427,258.75 428.5,267.5 430,275 432,281.25 434,286.25 436,290 438,293 440.5,292.5 442.5,290.5 444.5,291.25 446.5,287 448.75,285.5 451.25,286.25 453.75,285 455.5,287 457.5,285 459.5,282.5 462,284.5 464.5,285.5 467,286.25 469.5,289.5 472,290.5 474.5,292.5 477.5,294.5 480.5,297 483.75,298.5 487.5,299.25 518,299.25"/></clipPath>
<polygon points="396.25,298.75 397,290 398.75,277.5 400.5,262.5 402,247.5 403.5,231.25 405,212.5 406.5,200 408,190 409.5,185 411.25,187 413,186.25 414.25,196.25 415.5,200 416.5,192.5 418,197.5 419.5,210 421,222.5 422.5,228.75 424,240 425.5,252.5 427.5,265 429.5,275 432,281.25 434.5,283 437,285 440,288.75 443.75,291.25 447.5,292.5 451.25,294.5 454.5,295.5 458.75,297.5 465,298.5 472.5,299" fill="#a8a8a8"/>
<polygon points="396.25,298.75 397,290 398.75,277.5 400.5,262.5 402,247.5 403.5,231.25 405,212.5 406.5,200 408,190 409.5,185 411.25,187 413,186.25 414.25,196.25 415.5,200 416.5,192.5 418,197.5 419.5,210 421,222.5 422.5,228.75 424,240 425.5,252.5 427.5,265 429.5,275 432,281.25 434.5,283 437,285 440,288.75 443.75,291.25 447.5,292.5 451.25,294.5 454.5,295.5 458.75,297.5 465,298.5 472.5,299" fill="#7c7c7c" clip-path="url(#cd2)"/>
<polyline points="396.25,298.75 397,290.5 398.75,280 400.5,267.5 402,252.5 403.5,236.25 404.5,225 406,226.25 407,212.5 408.5,200 410,188.75 412,185 413.25,193.75 414.5,203.75 415.5,200 416.75,191.25 418,198.75 419.25,207.5 420.5,221.25 422,226.25 423,225 424,237.5 425.5,250 427,258.75 428.5,267.5 430,275 432,281.25 434,286.25 436,290 438,293 440.5,292.5 442.5,290.5 444.5,291.25 446.5,287 448.75,285.5 451.25,286.25 453.75,285 455.5,287 457.5,285 459.5,282.5 462,284.5 464.5,285.5 467,286.25 469.5,289.5 472,290.5 474.5,292.5 477.5,294.5 480.5,297 483.75,298.5 487.5,299.25 518,299.25" fill="none" stroke="#000" stroke-width="1.95" stroke-linejoin="round"/>
<rect x="395.5" y="177" width="123.4" height="122.8" fill="none" stroke="#555" stroke-width="0.9"/>
<line x1="479.5" y1="186.3" x2="488.8" y2="186.3" stroke="#000" stroke-width="2"/>
<text x="494.8" y="189.3" font-size="8.5" text-anchor="start" fill="#000">MVA</text>
<rect x="480.2" y="198.8" width="8.6" height="9.8" fill="#b2b2b2" stroke="#9a9a9a" stroke-width="0.7"/>
<text x="494.8" y="205.6" font-size="8.5" text-anchor="start" fill="#000">PBS</text>
<line x1="262" y1="309.4" x2="355" y2="309.4" stroke="#222" stroke-width="1.1"/>
<line x1="431" y1="309.4" x2="519" y2="309.4" stroke="#222" stroke-width="1.1"/>
<text x="392.9" y="312.6" font-size="10.4" text-anchor="middle" fill="#000">Granzyme B</text>
<text x="2" y="337.6" font-size="13.5" text-anchor="start" fill="#000" font-weight="bold">E</text>
<line x1="68" y1="352.1" x2="68" y2="468.3" stroke="#000" stroke-width="1.6"/>
<line x1="67.2" y1="467.6" x2="246.5" y2="467.6" stroke="#000" stroke-width="1.4"/>
<line x1="65.2" y1="467.6" x2="68" y2="467.6" stroke="#000" stroke-width="1.1"/>
<text x="63.8" y="470.9" font-size="8.6" text-anchor="end" fill="#000">0</text>
<line x1="65.2" y1="444.6" x2="68" y2="444.6" stroke="#000" stroke-width="1.1"/>
<text x="63.8" y="447.9" font-size="8.6" text-anchor="end" fill="#000">20</text>
<line x1="65.2" y1="421.6" x2="68" y2="421.6" stroke="#000" stroke-width="1.1"/>
<text x="63.8" y="424.9" font-size="8.6" text-anchor="end" fill="#000">40</text>
<line x1="65.2" y1="398.6" x2="68" y2="398.6" stroke="#000" stroke-width="1.1"/>
<text x="63.8" y="401.9" font-size="8.6" text-anchor="end" fill="#000">60</text>
<line x1="65.2" y1="375.6" x2="68" y2="375.6" stroke="#000" stroke-width="1.1"/>
<text x="63.8" y="378.9" font-size="8.6" text-anchor="end" fill="#000">80</text>
<line x1="65.2" y1="352.6" x2="68" y2="352.6" stroke="#000" stroke-width="1.1"/>
<text x="63.8" y="355.9" font-size="8.6" text-anchor="end" fill="#000">100</text>
<line x1="78" y1="467.6" x2="78" y2="469.8" stroke="#000" stroke-width="1"/>
<line x1="98" y1="467.6" x2="98" y2="469.8" stroke="#000" stroke-width="1"/>
<line x1="118" y1="467.6" x2="118" y2="469.8" stroke="#000" stroke-width="1"/>
<line x1="138" y1="467.6" x2="138" y2="469.8" stroke="#000" stroke-width="1"/>
<line x1="158" y1="467.6" x2="158" y2="469.8" stroke="#000" stroke-width="1"/>
<line x1="178" y1="467.6" x2="178" y2="469.8" stroke="#000" stroke-width="1"/>
<line x1="198" y1="467.6" x2="198" y2="469.8" stroke="#000" stroke-width="1"/>
<line x1="218" y1="467.6" x2="218" y2="469.8" stroke="#000" stroke-width="1"/>
<line x1="238" y1="467.6" x2="238" y2="469.8" stroke="#000" stroke-width="1"/>
<rect x="71.3" y="450.7" width="13.4" height="16.9" fill="#fff" stroke="#000" stroke-width="1.4"/>
<line x1="78" y1="449.2" x2="78" y2="451.4" stroke="#000" stroke-width="1.4"/>
<line x1="74.2" y1="449.2" x2="81.8" y2="449.2" stroke="#000" stroke-width="1.4"/>
<line x1="74.2" y1="451.4" x2="81.8" y2="451.4" stroke="#000" stroke-width="1.4"/>
<rect x="91.3" y="449.1" width="13.4" height="18.5" fill="#fff" stroke="#000" stroke-width="1.4"/>
<line x1="98" y1="448" x2="98" y2="449" stroke="#000" stroke-width="1.4"/>
<line x1="94.2" y1="448" x2="101.8" y2="448" stroke="#000" stroke-width="1.4"/>
<line x1="94.2" y1="449" x2="101.8" y2="449" stroke="#000" stroke-width="1.4"/>
<rect x="111.3" y="446.7" width="13.4" height="20.9" fill="#fff" stroke="#000" stroke-width="1.4"/>
<line x1="118" y1="445.6" x2="118" y2="446.5" stroke="#000" stroke-width="1.4"/>
<line x1="114.2" y1="445.6" x2="121.8" y2="445.6" stroke="#000" stroke-width="1.4"/>
<line x1="114.2" y1="446.5" x2="121.8" y2="446.5" stroke="#000" stroke-width="1.4"/>
<rect x="131.3" y="357.3" width="13.4" height="110.3" fill="#808080" stroke="#000" stroke-width="1.4"/>
<line x1="138" y1="356.2" x2="138" y2="357.8" stroke="#000" stroke-width="1.4"/>
<line x1="134.2" y1="356.2" x2="141.8" y2="356.2" stroke="#000" stroke-width="1.4"/>
<line x1="134.2" y1="357.8" x2="141.8" y2="357.8" stroke="#000" stroke-width="1.4"/>
<rect x="151.3" y="360.9" width="13.4" height="106.7" fill="#808080" stroke="#000" stroke-width="1.4"/>
<line x1="158" y1="359.8" x2="158" y2="361.2" stroke="#000" stroke-width="1.4"/>
<line x1="154.2" y1="359.8" x2="161.8" y2="359.8" stroke="#000" stroke-width="1.4"/>
<line x1="154.2" y1="361.2" x2="161.8" y2="361.2" stroke="#000" stroke-width="1.4"/>
<rect x="171.3" y="360.5" width="13.4" height="107.1" fill="#808080" stroke="#000" stroke-width="1.4"/>
<line x1="178" y1="359.4" x2="178" y2="360.6" stroke="#000" stroke-width="1.4"/>
<line x1="174.2" y1="359.4" x2="181.8" y2="359.4" stroke="#000" stroke-width="1.4"/>
<line x1="174.2" y1="360.6" x2="181.8" y2="360.6" stroke="#000" stroke-width="1.4"/>
<line x1="198" y1="365.6" x2="198" y2="370" stroke="#000" stroke-width="1.4"/>
<line x1="194.2" y1="365.6" x2="201.8" y2="365.6" stroke="#000" stroke-width="1.4"/>
<rect x="191.3" y="368.3" width="13.4" height="99.3" fill="#000" stroke="#000" stroke-width="1.4"/>
<line x1="218" y1="380" x2="218" y2="383" stroke="#000" stroke-width="1.4"/>
<line x1="214.2" y1="380" x2="221.8" y2="380" stroke="#000" stroke-width="1.4"/>
<rect x="211.3" y="382.5" width="13.4" height="85.1" fill="#000" stroke="#000" stroke-width="1.4"/>
<line x1="238" y1="421.4" x2="238" y2="436" stroke="#000" stroke-width="1.4"/>
<line x1="234.2" y1="421.4" x2="241.8" y2="421.4" stroke="#000" stroke-width="1.4"/>
<rect x="231.3" y="429.5" width="13.4" height="38.1" fill="#000" stroke="#000" stroke-width="1.4"/>
<text x="42.4" y="410.6" font-size="10.8" text-anchor="middle" fill="#000" transform="rotate(-90 42.4 410.6)">% CD69<tspan dy="-3.6" font-size="7">+</tspan><tspan dy="3.6"> NK cells</tspan></text>
<path d="M159.6 353V349.6H179.6V353" fill="none" stroke="#000" stroke-width="1"/>
<text x="169.6" y="348" font-size="6.6" text-anchor="middle" fill="#000">ns</text>
<path d="M217.6 354.2V350.6H237.6V354.2" fill="none" stroke="#000" stroke-width="1"/>
<text x="227.6" y="351.6" font-size="7" text-anchor="middle" fill="#000">**</text>
<text x="2.1" y="484.6" font-size="8.95" text-anchor="start" fill="#000">Pretreatment</text>
<text x="19.9" y="504.3" font-size="8.7" text-anchor="start" fill="#000">Stimulus</text>
<text x="78" y="480.9" font-size="6.2" text-anchor="middle" fill="#000" font-weight="bold">PBS</text>
<text x="97.7" y="476.8" font-size="6.2" text-anchor="middle" fill="#000" font-weight="bold">PBS</text>
<text x="97.7" y="484.6" font-size="6.2" text-anchor="middle" fill="#000" font-weight="bold">Lipo</text>
<text x="117.6" y="476.8" font-size="6.2" text-anchor="middle" fill="#000" font-weight="bold">CL</text>
<text x="117.6" y="484.6" font-size="6.2" text-anchor="middle" fill="#000" font-weight="bold">Lipo</text>
<text x="138.5" y="480.9" font-size="6.2" text-anchor="middle" fill="#000" font-weight="bold">PBS</text>
<text x="157.9" y="476.8" font-size="6.2" text-anchor="middle" fill="#000" font-weight="bold">PBS</text>
<text x="157.9" y="484.6" font-size="6.2" text-anchor="middle" fill="#000" font-weight="bold">Lipo</text>
<text x="177.9" y="476.8" font-size="6.2" text-anchor="middle" fill="#000" font-weight="bold">CL</text>
<text x="177.9" y="484.6" font-size="6.2" text-anchor="middle" fill="#000" font-weight="bold">Lipo</text>
<text x="198.1" y="480.9" font-size="6.2" text-anchor="middle" fill="#000" font-weight="bold">PBS</text>
<text x="217.9" y="476.8" font-size="6.2" text-anchor="middle" fill="#000" font-weight="bold">PBS</text>
<text x="217.9" y="484.6" font-size="6.2" text-anchor="middle" fill="#000" font-weight="bold">Lipo</text>
<text x="237.2" y="476.8" font-size="6.2" text-anchor="middle" fill="#000" font-weight="bold">CL</text>
<text x="237.2" y="484.6" font-size="6.2" text-anchor="middle" fill="#000" font-weight="bold">Lipo</text>
<line x1="71.6" y1="490.8" x2="122.6" y2="490.8" stroke="#000" stroke-width="1.6"/>
<text x="97.2" y="504.3" font-size="8.6" text-anchor="middle" fill="#000">PBS</text>
<line x1="133.6" y1="490.8" x2="183.8" y2="490.8" stroke="#000" stroke-width="1.6"/>
<text x="158.4" y="504.3" font-size="8.6" text-anchor="middle" fill="#000">pIC</text>
<line x1="192.4" y1="490.8" x2="243.2" y2="490.8" stroke="#000" stroke-width="1.6"/>
<text x="217.6" y="504.3" font-size="8.6" text-anchor="middle" fill="#000">MVA</text>
<text x="270.3" y="337.6" font-size="13.5" text-anchor="start" fill="#000" font-weight="bold">F</text>
<line x1="333.3" y1="352.1" x2="333.3" y2="468.3" stroke="#000" stroke-width="1.6"/>
<line x1="332.5" y1="467.6" x2="514.3" y2="467.6" stroke="#000" stroke-width="1.4"/>
<line x1="330.5" y1="467.6" x2="333.3" y2="467.6" stroke="#000" stroke-width="1.1"/>
<text x="329.1" y="470.9" font-size="8.6" text-anchor="end" fill="#000">0</text>
<line x1="330.5" y1="438.85" x2="333.3" y2="438.85" stroke="#000" stroke-width="1.1"/>
<text x="329.1" y="442.15" font-size="8.6" text-anchor="end" fill="#000">20</text>
<line x1="330.5" y1="410.1" x2="333.3" y2="410.1" stroke="#000" stroke-width="1.1"/>
<text x="329.1" y="413.4" font-size="8.6" text-anchor="end" fill="#000">40</text>
<line x1="330.5" y1="381.35" x2="333.3" y2="381.35" stroke="#000" stroke-width="1.1"/>
<text x="329.1" y="384.65" font-size="8.6" text-anchor="end" fill="#000">60</text>
<line x1="330.5" y1="352.6" x2="333.3" y2="352.6" stroke="#000" stroke-width="1.1"/>
<text x="329.1" y="355.9" font-size="8.6" text-anchor="end" fill="#000">80</text>
<line x1="343.4" y1="467.6" x2="343.4" y2="469.8" stroke="#000" stroke-width="1"/>
<line x1="363.5" y1="467.6" x2="363.5" y2="469.8" stroke="#000" stroke-width="1"/>
<line x1="383.5" y1="467.6" x2="383.5" y2="469.8" stroke="#000" stroke-width="1"/>
<line x1="404" y1="467.6" x2="404" y2="469.8" stroke="#000" stroke-width="1"/>
<line x1="424" y1="467.6" x2="424" y2="469.8" stroke="#000" stroke-width="1"/>
<line x1="444" y1="467.6" x2="444" y2="469.8" stroke="#000" stroke-width="1"/>
<line x1="464.5" y1="467.6" x2="464.5" y2="469.8" stroke="#000" stroke-width="1"/>
<line x1="484.5" y1="467.6" x2="484.5" y2="469.8" stroke="#000" stroke-width="1"/>
<line x1="505" y1="467.6" x2="505" y2="469.8" stroke="#000" stroke-width="1"/>
<rect x="336.8" y="451.9" width="13.2" height="15.7" fill="#fff" stroke="#000" stroke-width="1.4"/>
<line x1="343.4" y1="448.4" x2="343.4" y2="454.2" stroke="#000" stroke-width="1.4"/>
<line x1="339.6" y1="448.4" x2="347.2" y2="448.4" stroke="#000" stroke-width="1.4"/>
<line x1="339.6" y1="454.2" x2="347.2" y2="454.2" stroke="#000" stroke-width="1.4"/>
<rect x="356.9" y="454.5" width="13.2" height="13.1" fill="#fff" stroke="#000" stroke-width="1.4"/>
<line x1="363.5" y1="450.6" x2="363.5" y2="457" stroke="#000" stroke-width="1.4"/>
<line x1="359.7" y1="450.6" x2="367.3" y2="450.6" stroke="#000" stroke-width="1.4"/>
<line x1="359.7" y1="457" x2="367.3" y2="457" stroke="#000" stroke-width="1.4"/>
<rect x="376.9" y="457.5" width="13.2" height="10.1" fill="#fff" stroke="#000" stroke-width="1.4"/>
<line x1="383.5" y1="454" x2="383.5" y2="460" stroke="#000" stroke-width="1.4"/>
<line x1="379.7" y1="454" x2="387.3" y2="454" stroke="#000" stroke-width="1.4"/>
<line x1="379.7" y1="460" x2="387.3" y2="460" stroke="#000" stroke-width="1.4"/>
<rect x="397.4" y="423.3" width="13.2" height="44.3" fill="#808080" stroke="#000" stroke-width="1.4"/>
<line x1="404" y1="409.6" x2="404" y2="434.6" stroke="#000" stroke-width="1.4"/>
<line x1="400.2" y1="409.6" x2="407.8" y2="409.6" stroke="#000" stroke-width="1.4"/>
<line x1="400.2" y1="434.6" x2="407.8" y2="434.6" stroke="#000" stroke-width="1.4"/>
<rect x="417.4" y="411.1" width="13.2" height="56.5" fill="#808080" stroke="#000" stroke-width="1.4"/>
<line x1="424" y1="398" x2="424" y2="422.6" stroke="#000" stroke-width="1.4"/>
<line x1="420.2" y1="398" x2="427.8" y2="398" stroke="#000" stroke-width="1.4"/>
<line x1="420.2" y1="422.6" x2="427.8" y2="422.6" stroke="#000" stroke-width="1.4"/>
<rect x="437.4" y="425.9" width="13.2" height="41.7" fill="#808080" stroke="#000" stroke-width="1.4"/>
<line x1="444" y1="422.6" x2="444" y2="427.6" stroke="#000" stroke-width="1.4"/>
<line x1="440.2" y1="422.6" x2="447.8" y2="422.6" stroke="#000" stroke-width="1.4"/>
<line x1="440.2" y1="427.6" x2="447.8" y2="427.6" stroke="#000" stroke-width="1.4"/>
<line x1="464.5" y1="362.2" x2="464.5" y2="378" stroke="#000" stroke-width="1.4"/>
<line x1="460.7" y1="362.2" x2="468.3" y2="362.2" stroke="#000" stroke-width="1.4"/>
<rect x="457.9" y="370.9" width="13.2" height="96.7" fill="#000" stroke="#000" stroke-width="1.4"/>
<line x1="484.5" y1="368.8" x2="484.5" y2="410" stroke="#000" stroke-width="1.4"/>
<line x1="480.7" y1="368.8" x2="488.3" y2="368.8" stroke="#000" stroke-width="1.4"/>
<rect x="477.9" y="391.3" width="13.2" height="76.3" fill="#000" stroke="#000" stroke-width="1.4"/>
<line x1="505" y1="436.6" x2="505" y2="452" stroke="#000" stroke-width="1.4"/>
<line x1="501.2" y1="436.6" x2="508.8" y2="436.6" stroke="#000" stroke-width="1.4"/>
<rect x="498.4" y="445.3" width="13.2" height="22.3" fill="#000" stroke="#000" stroke-width="1.4"/>
<text x="307.7" y="406.6" font-size="10.8" text-anchor="middle" fill="#000" transform="rotate(-90 307.7 406.6)">% Granzyme B<tspan dy="-3.8" font-size="7">high</tspan><tspan dy="3.8"> NK cells</tspan></text>
<path d="M423.9 390.8V387.2H444.4V390.8" fill="none" stroke="#000" stroke-width="1"/>
<text x="434.15" y="385.6" font-size="6.6" text-anchor="middle" fill="#000">ns</text>
<path d="M483.9 360.4V357H503.9V360.4" fill="none" stroke="#000" stroke-width="1"/>
<text x="493.9" y="358" font-size="7" text-anchor="middle" fill="#000">*</text>
<text x="269.5" y="484.6" font-size="8.95" text-anchor="start" fill="#000">Pretreatment</text>
<text x="287" y="504.3" font-size="8.7" text-anchor="start" fill="#000">Stimulus</text>
<text x="345.5" y="480.9" font-size="6.2" text-anchor="middle" fill="#000" font-weight="bold">PBS</text>
<text x="365.2" y="476.8" font-size="6.2" text-anchor="middle" fill="#000" font-weight="bold">PBS</text>
<text x="365.2" y="484.6" font-size="6.2" text-anchor="middle" fill="#000" font-weight="bold">Lipo</text>
<text x="385.2" y="476.8" font-size="6.2" text-anchor="middle" fill="#000" font-weight="bold">CL</text>
<text x="385.2" y="484.6" font-size="6.2" text-anchor="middle" fill="#000" font-weight="bold">Lipo</text>
<text x="405.9" y="480.9" font-size="6.2" text-anchor="middle" fill="#000" font-weight="bold">PBS</text>
<text x="425.4" y="476.8" font-size="6.2" text-anchor="middle" fill="#000" font-weight="bold">PBS</text>
<text x="425.4" y="484.6" font-size="6.2" text-anchor="middle" fill="#000" font-weight="bold">Lipo</text>
<text x="445.4" y="476.8" font-size="6.2" text-anchor="middle" fill="#000" font-weight="bold">CL</text>
<text x="445.4" y="484.6" font-size="6.2" text-anchor="middle" fill="#000" font-weight="bold">Lipo</text>
<text x="465.6" y="480.9" font-size="6.2" text-anchor="middle" fill="#000" font-weight="bold">PBS</text>
<text x="485.4" y="476.8" font-size="6.2" text-anchor="middle" fill="#000" font-weight="bold">PBS</text>
<text x="485.4" y="484.6" font-size="6.2" text-anchor="middle" fill="#000" font-weight="bold">Lipo</text>
<text x="504.9" y="476.8" font-size="6.2" text-anchor="middle" fill="#000" font-weight="bold">CL</text>
<text x="504.9" y="484.6" font-size="6.2" text-anchor="middle" fill="#000" font-weight="bold">Lipo</text>
<line x1="339.2" y1="490.8" x2="389.8" y2="490.8" stroke="#000" stroke-width="1.6"/>
<text x="364.4" y="504.3" font-size="8.6" text-anchor="middle" fill="#000">PBS</text>
<line x1="401.2" y1="490.8" x2="451.8" y2="490.8" stroke="#000" stroke-width="1.6"/>
<text x="426.2" y="504.3" font-size="8.6" text-anchor="middle" fill="#000">pIC</text>
<line x1="460" y1="490.8" x2="511.4" y2="490.8" stroke="#000" stroke-width="1.6"/>
<text x="485.4" y="504.3" font-size="8.6" text-anchor="middle" fill="#000">MVA</text>
</svg>
</body>
</html>
